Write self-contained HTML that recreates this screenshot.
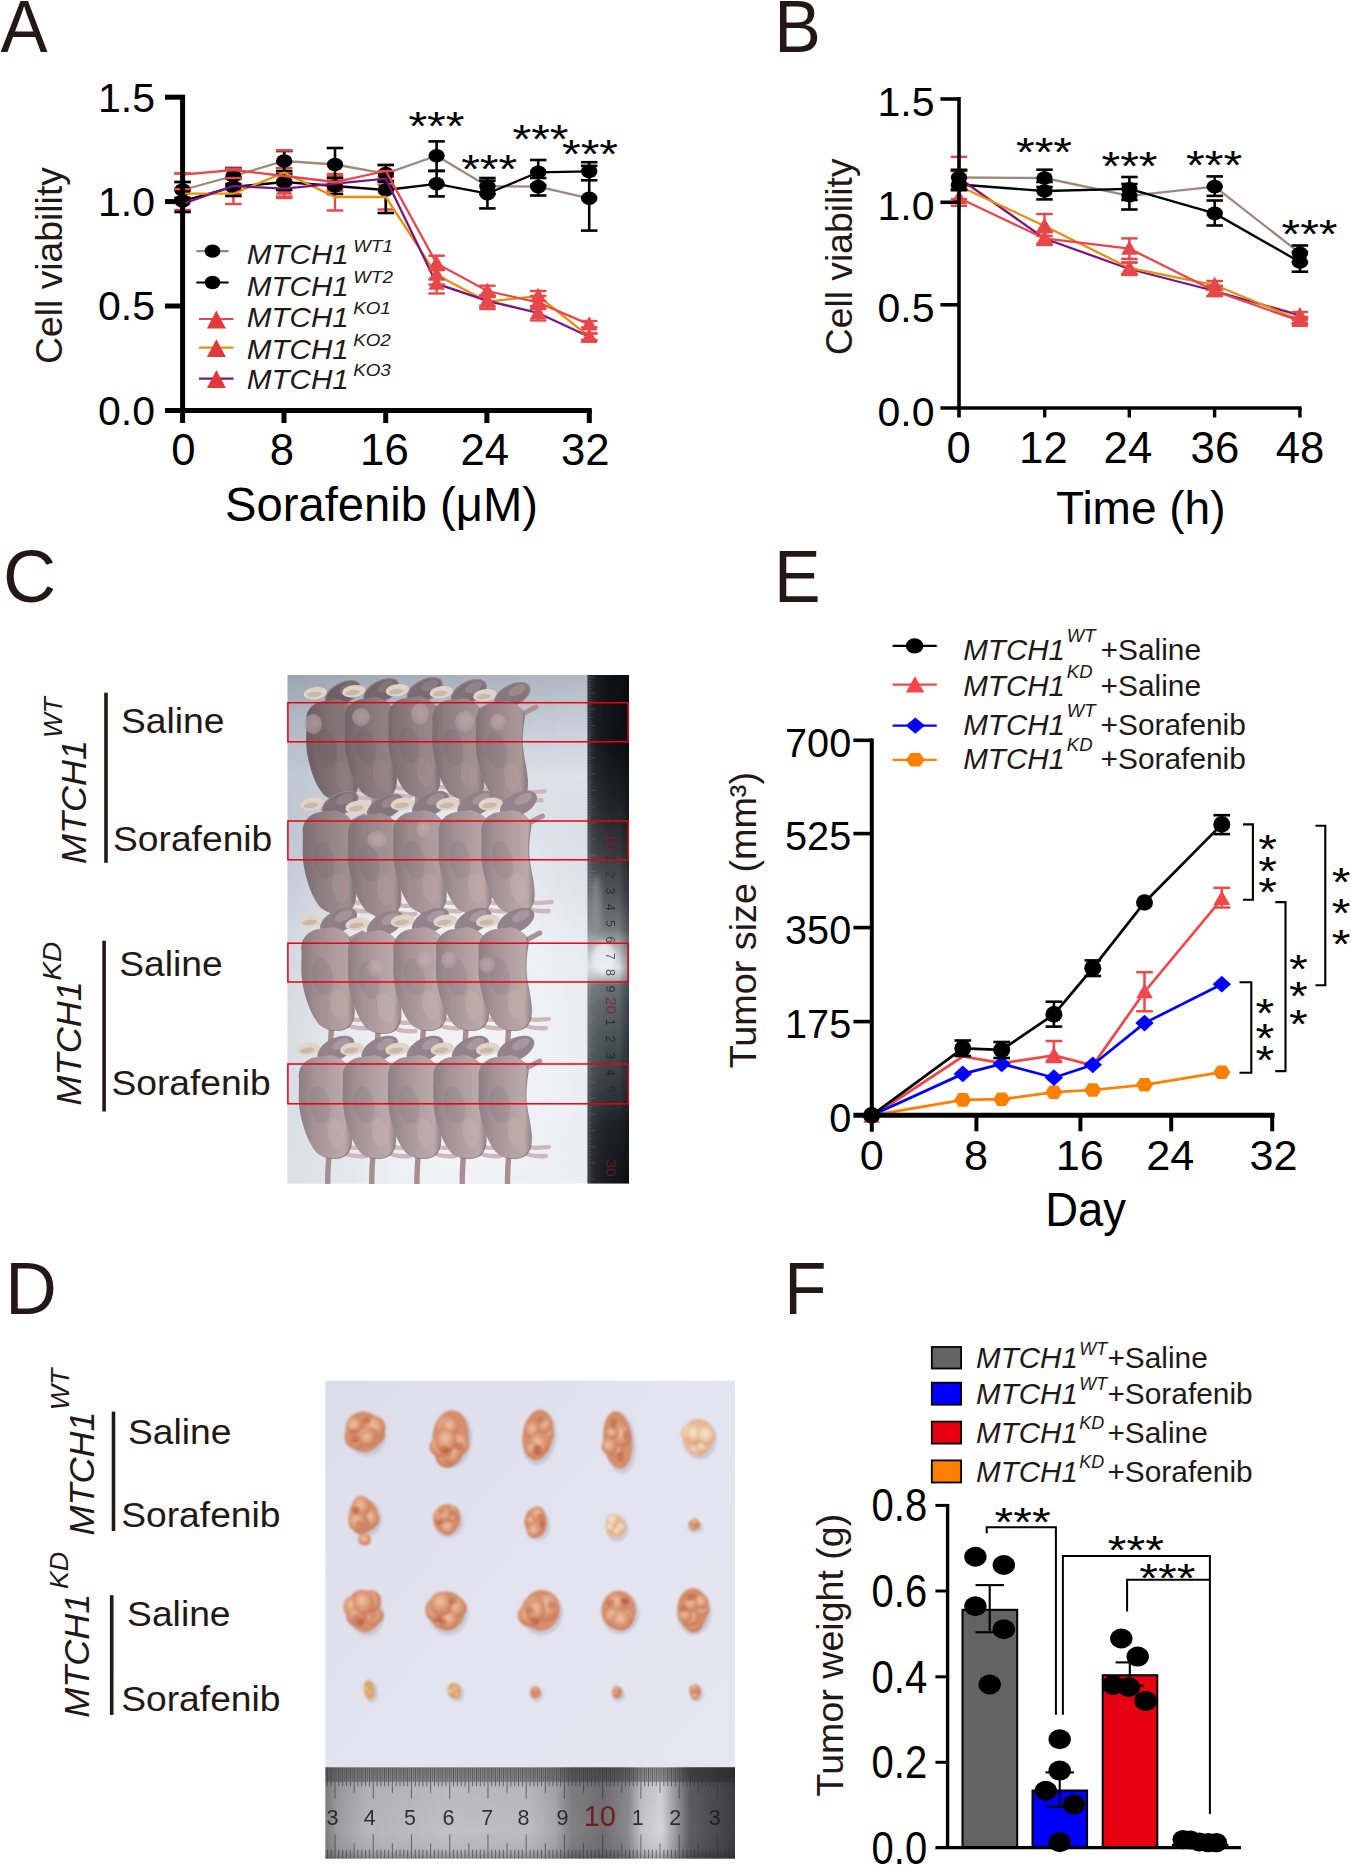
<!DOCTYPE html>
<html><head><meta charset="utf-8"><title>Figure</title>
<style>
html,body{margin:0;padding:0;background:#fff;}
body{width:1351px;height:1865px;overflow:hidden;}
svg{display:block;font-family:"Liberation Sans",sans-serif;}
</style></head><body>
<svg width="1351" height="1865" viewBox="0 0 1351 1865">
<defs>
<clipPath id="clipC"><rect x="287.3" y="675" width="341.7" height="508.7"/></clipPath>
<linearGradient id="bgC" x1="0" y1="0" x2="1" y2="0">
 <stop offset="0" stop-color="#c0c8d3"/><stop offset="0.4" stop-color="#ced5de"/><stop offset="0.8" stop-color="#dbe0e8"/><stop offset="1" stop-color="#dfe3ea"/>
</linearGradient>
<linearGradient id="bgCv" x1="0" y1="0" x2="0" y2="1">
 <stop offset="0" stop-color="#4a5568" stop-opacity="0.30"/><stop offset="0.08" stop-color="#4a5568" stop-opacity="0.16"/><stop offset="0.2" stop-color="#4a5568" stop-opacity="0.0"/><stop offset="0.5" stop-color="#fff" stop-opacity="0.15"/><stop offset="1" stop-color="#fff" stop-opacity="0.45"/>
</linearGradient>
<linearGradient id="rulC" x1="0" y1="0" x2="0" y2="1">
 <stop offset="0" stop-color="#0d0f14"/><stop offset="0.14" stop-color="#101217"/><stop offset="0.24" stop-color="#1d2025"/>
 <stop offset="0.34" stop-color="#32363b"/><stop offset="0.43" stop-color="#50555a"/><stop offset="0.5" stop-color="#767b80"/>
 <stop offset="0.53" stop-color="#a9adb1"/><stop offset="0.575" stop-color="#dfe1e4"/><stop offset="0.598" stop-color="#b5b9bc"/>
 <stop offset="0.608" stop-color="#6a7277"/><stop offset="0.65" stop-color="#596367"/><stop offset="0.72" stop-color="#465054"/>
 <stop offset="0.8" stop-color="#343c40"/><stop offset="0.88" stop-color="#1e2226"/><stop offset="1" stop-color="#121418"/>
</linearGradient>
<linearGradient id="rulCh" x1="0" y1="0" x2="1" y2="0">
 <stop offset="0" stop-color="#fff" stop-opacity="0.10"/><stop offset="0.3" stop-color="#fff" stop-opacity="0.04"/>
 <stop offset="0.75" stop-color="#000" stop-opacity="0.0"/><stop offset="1" stop-color="#000" stop-opacity="0.35"/>
</linearGradient>
<linearGradient id="bodyG" gradientUnits="userSpaceOnUse" x1="-26" y1="0" x2="26" y2="0">
 <stop offset="0" stop-color="#8d7d82"/><stop offset="0.3" stop-color="#a39195"/><stop offset="0.65" stop-color="#b3a0a2"/><stop offset="0.9" stop-color="#bca9a9"/><stop offset="1" stop-color="#9d8c90"/>
</linearGradient>
<radialGradient id="bumpG" cx="0.5" cy="0.45" r="0.6">
 <stop offset="0" stop-color="#cbb7b5"/><stop offset="0.7" stop-color="#b5a2a4"/><stop offset="1" stop-color="#a08f94"/>
</radialGradient>
<filter id="blurC" x="-5%" y="-5%" width="110%" height="110%"><feGaussianBlur stdDeviation="0.6"/></filter>
<filter id="blurL" x="-50%" y="-50%" width="200%" height="200%"><feGaussianBlur stdDeviation="40"/></filter>
<filter id="blurS" x="-30%" y="-30%" width="160%" height="160%"><feGaussianBlur stdDeviation="2.5"/></filter>
<g id="mouse">
 <path d="M14,41 C22,46 30,48 42,47 M18,36 C27,40 35,39 45,38" fill="none" stroke="#d0b8ba" stroke-width="4.4" stroke-linecap="round"/>
 <path d="M15,-38 C22,-40 28,-44 36,-48" fill="none" stroke="#ac9297" stroke-width="5" stroke-linecap="round"/>
 <ellipse cx="12" cy="-60" rx="20" ry="11" transform="rotate(-27 12 -60)" fill="#93838a"/>
 <ellipse cx="17" cy="-65" rx="9.5" ry="4.8" transform="rotate(-27 17 -65)" fill="#a8989e"/>
 <path d="M-25,-30 C-27,-42 -18,-51 -7,-52 L7,-54 C15,-52 23,-47 24,-39 C22,-27 21,-17 22,-7 C23,3 26,13 27,25 C28,37 25,45 17,48 C9,51 -1,49 -8,43 C-16,33 -21,19 -24,3 C-26,-8 -25,-20 -25,-30 Z" fill="#6a5a64" opacity="0.7" transform="translate(1.0,0.7)"/>
 <path d="M-25,-30 C-27,-42 -18,-51 -7,-52 L7,-54 C15,-52 23,-47 24,-39 C22,-27 21,-17 22,-7 C23,3 26,13 27,25 C28,37 25,45 17,48 C9,51 -1,49 -8,43 C-16,33 -21,19 -24,3 C-26,-8 -25,-20 -25,-30 Z" fill="url(#bodyG)"/>
 <ellipse cx="-4" cy="-4" rx="10" ry="19" transform="rotate(-10 -4 -4)" fill="#6d5f6c" opacity="0.14"/>
 <ellipse cx="12" cy="24" rx="8" ry="15" transform="rotate(-8 12 24)" fill="#cdb4b0" opacity="0.40"/>
 <ellipse cx="-16" cy="-60" rx="12" ry="6.2" transform="rotate(-8 -16 -60)" fill="#e0d4c6"/>
 <ellipse cx="-17" cy="-58.6" rx="7.5" ry="2.8" transform="rotate(-8 -17 -58.6)" fill="#cbb8ac"/>
</g>
<g id="mshade"><ellipse cx="12" cy="-60" rx="18.5" ry="9.8" transform="rotate(-27 12 -60)" fill="#1a1216"/>
 <path d="M-25,-30 C-27,-42 -18,-51 -7,-52 L7,-54 C15,-52 23,-47 24,-39 C22,-27 21,-17 22,-7 C23,3 26,13 27,25 C28,37 25,45 17,48 C9,51 -1,49 -8,43 C-16,33 -21,19 -24,3 C-26,-8 -25,-20 -25,-30 Z" fill="#1a1216"/></g>
<path id="tail" d="M5,45 C4,58 3,70 4,86" fill="none" stroke="#a88d91" stroke-width="5.4" stroke-linecap="round"/>
<clipPath id="clipD"><rect x="325.2" y="1380.5" width="409.8" height="478.3"/></clipPath>
<linearGradient id="bgD" x1="0" y1="0" x2="1" y2="1">
 <stop offset="0" stop-color="#dcdde9"/><stop offset="0.5" stop-color="#e3e4ef"/><stop offset="1" stop-color="#e6e6f0"/>
</linearGradient>
<linearGradient id="rulD" x1="0" y1="0" x2="1" y2="0">
 <stop offset="0" stop-color="#7e7e80"/><stop offset="0.03" stop-color="#9c9c9e"/><stop offset="0.1" stop-color="#b6b6b8"/>
 <stop offset="0.3" stop-color="#c1c1c3"/><stop offset="0.5" stop-color="#bcbcbe"/><stop offset="0.56" stop-color="#a8a8aa"/>
 <stop offset="0.6" stop-color="#828284"/><stop offset="0.68" stop-color="#707072"/><stop offset="0.74" stop-color="#8c8c8e"/>
 <stop offset="0.77" stop-color="#c2c2c4"/><stop offset="0.82" stop-color="#d6d6d8"/><stop offset="0.855" stop-color="#9a9a9c"/>
 <stop offset="0.89" stop-color="#5e5e60"/><stop offset="1" stop-color="#3e3e40"/>
</linearGradient>
<linearGradient id="rulDv" x1="0" y1="0" x2="0" y2="1">
 <stop offset="0" stop-color="#000" stop-opacity="0.30"/><stop offset="0.15" stop-color="#000" stop-opacity="0.24"/><stop offset="0.17" stop-color="#000" stop-opacity="0.04"/>
 <stop offset="0.7" stop-color="#000" stop-opacity="0"/><stop offset="0.9" stop-color="#000" stop-opacity="0.05"/><stop offset="1" stop-color="#000" stop-opacity="0.25"/>
</linearGradient>
<radialGradient id="tumG" cx="0.45" cy="0.4" r="0.65">
 <stop offset="0" stop-color="#efc2a4"/><stop offset="0.45" stop-color="#dfa07e"/><stop offset="0.85" stop-color="#cc7f5e"/><stop offset="1" stop-color="#b96a4c"/>
</radialGradient>
<radialGradient id="tumY" cx="0.45" cy="0.4" r="0.65">
 <stop offset="0" stop-color="#f0d6a6"/><stop offset="0.6" stop-color="#deb077"/><stop offset="1" stop-color="#c98e5a"/>
</radialGradient>
<radialGradient id="tumP" cx="0.45" cy="0.4" r="0.65">
 <stop offset="0" stop-color="#f8e6cf"/><stop offset="0.55" stop-color="#ecc6a2"/><stop offset="1" stop-color="#d49a74"/>
</radialGradient>
<filter id="blurD" x="-10%" y="-10%" width="120%" height="120%"><feGaussianBlur stdDeviation="0.8"/></filter>
</defs>
<rect x="0" y="0" width="1351" height="1865" fill="#fff"/>
<g id="panelA">
<polyline points="182.6,190 233.4,176 284.2,161 335,164.5 385.8,173.6 436.6,155.7 487.4,186.2 538.2,186.6 589.2,198.3" fill="none" stroke="#9e877b" stroke-width="2.3" stroke-linejoin="miter" stroke-linecap="butt"/>
<polyline points="182.6,201 233.4,187 284.2,182 335,186 385.8,190 436.6,183.8 487.4,193.6 538.2,172.3 589.2,171.4" fill="none" stroke="#000" stroke-width="2.3" stroke-linejoin="miter" stroke-linecap="butt"/>
<line x1="182.6" y1="188" x2="182.6" y2="200" stroke="#e8474a" stroke-width="2.4" stroke-linecap="butt"/>
<line x1="174.35" y1="188" x2="190.85" y2="188" stroke="#e8474a" stroke-width="2.4" stroke-linecap="butt"/>
<line x1="174.35" y1="200" x2="190.85" y2="200" stroke="#e8474a" stroke-width="2.4" stroke-linecap="butt"/>
<line x1="233.4" y1="186" x2="233.4" y2="204" stroke="#e8474a" stroke-width="2.4" stroke-linecap="butt"/>
<line x1="225.15" y1="186" x2="241.65" y2="186" stroke="#e8474a" stroke-width="2.4" stroke-linecap="butt"/>
<line x1="225.15" y1="204" x2="241.65" y2="204" stroke="#e8474a" stroke-width="2.4" stroke-linecap="butt"/>
<line x1="284.2" y1="150.5" x2="284.2" y2="196.6" stroke="#e8474a" stroke-width="2.4" stroke-linecap="butt"/>
<line x1="275.95" y1="150.5" x2="292.45" y2="150.5" stroke="#e8474a" stroke-width="2.4" stroke-linecap="butt"/>
<line x1="275.95" y1="196.6" x2="292.45" y2="196.6" stroke="#e8474a" stroke-width="2.4" stroke-linecap="butt"/>
<line x1="335" y1="188" x2="335" y2="210.5" stroke="#e8474a" stroke-width="2.4" stroke-linecap="butt"/>
<line x1="326.75" y1="188" x2="343.25" y2="188" stroke="#e8474a" stroke-width="2.4" stroke-linecap="butt"/>
<line x1="326.75" y1="210.5" x2="343.25" y2="210.5" stroke="#e8474a" stroke-width="2.4" stroke-linecap="butt"/>
<line x1="385.8" y1="190" x2="385.8" y2="209.5" stroke="#e8474a" stroke-width="2.4" stroke-linecap="butt"/>
<line x1="377.55" y1="190" x2="394.05" y2="190" stroke="#e8474a" stroke-width="2.4" stroke-linecap="butt"/>
<line x1="377.55" y1="209.5" x2="394.05" y2="209.5" stroke="#e8474a" stroke-width="2.4" stroke-linecap="butt"/>
<line x1="182.6" y1="198" x2="182.6" y2="210" stroke="#e8474a" stroke-width="2.4" stroke-linecap="butt"/>
<line x1="174.35" y1="198" x2="190.85" y2="198" stroke="#e8474a" stroke-width="2.4" stroke-linecap="butt"/>
<line x1="174.35" y1="210" x2="190.85" y2="210" stroke="#e8474a" stroke-width="2.4" stroke-linecap="butt"/>
<line x1="233.4" y1="178" x2="233.4" y2="194" stroke="#e8474a" stroke-width="2.4" stroke-linecap="butt"/>
<line x1="225.15" y1="178" x2="241.65" y2="178" stroke="#e8474a" stroke-width="2.4" stroke-linecap="butt"/>
<line x1="225.15" y1="194" x2="241.65" y2="194" stroke="#e8474a" stroke-width="2.4" stroke-linecap="butt"/>
<line x1="284.2" y1="180" x2="284.2" y2="198" stroke="#e8474a" stroke-width="2.4" stroke-linecap="butt"/>
<line x1="275.95" y1="180" x2="292.45" y2="180" stroke="#e8474a" stroke-width="2.4" stroke-linecap="butt"/>
<line x1="275.95" y1="198" x2="292.45" y2="198" stroke="#e8474a" stroke-width="2.4" stroke-linecap="butt"/>
<line x1="335" y1="176" x2="335" y2="191" stroke="#e8474a" stroke-width="2.4" stroke-linecap="butt"/>
<line x1="326.75" y1="176" x2="343.25" y2="176" stroke="#e8474a" stroke-width="2.4" stroke-linecap="butt"/>
<line x1="326.75" y1="191" x2="343.25" y2="191" stroke="#e8474a" stroke-width="2.4" stroke-linecap="butt"/>
<line x1="385.8" y1="172" x2="385.8" y2="185" stroke="#e8474a" stroke-width="2.4" stroke-linecap="butt"/>
<line x1="377.55" y1="172" x2="394.05" y2="172" stroke="#e8474a" stroke-width="2.4" stroke-linecap="butt"/>
<line x1="377.55" y1="185" x2="394.05" y2="185" stroke="#e8474a" stroke-width="2.4" stroke-linecap="butt"/>
<line x1="182.6" y1="173.4" x2="182.6" y2="182" stroke="#e8474a" stroke-width="2.4" stroke-linecap="butt"/>
<line x1="174.35" y1="173.4" x2="190.85" y2="173.4" stroke="#e8474a" stroke-width="2.4" stroke-linecap="butt"/>
<line x1="174.35" y1="182" x2="190.85" y2="182" stroke="#e8474a" stroke-width="2.4" stroke-linecap="butt"/>
<line x1="233.4" y1="168.5" x2="233.4" y2="179" stroke="#e8474a" stroke-width="2.4" stroke-linecap="butt"/>
<line x1="225.15" y1="168.5" x2="241.65" y2="168.5" stroke="#e8474a" stroke-width="2.4" stroke-linecap="butt"/>
<line x1="225.15" y1="179" x2="241.65" y2="179" stroke="#e8474a" stroke-width="2.4" stroke-linecap="butt"/>
<line x1="284.2" y1="168" x2="284.2" y2="184" stroke="#e8474a" stroke-width="2.4" stroke-linecap="butt"/>
<line x1="275.95" y1="168" x2="292.45" y2="168" stroke="#e8474a" stroke-width="2.4" stroke-linecap="butt"/>
<line x1="275.95" y1="184" x2="292.45" y2="184" stroke="#e8474a" stroke-width="2.4" stroke-linecap="butt"/>
<line x1="335" y1="174" x2="335" y2="190" stroke="#e8474a" stroke-width="2.4" stroke-linecap="butt"/>
<line x1="326.75" y1="174" x2="343.25" y2="174" stroke="#e8474a" stroke-width="2.4" stroke-linecap="butt"/>
<line x1="326.75" y1="190" x2="343.25" y2="190" stroke="#e8474a" stroke-width="2.4" stroke-linecap="butt"/>
<line x1="385.8" y1="165" x2="385.8" y2="177" stroke="#e8474a" stroke-width="2.4" stroke-linecap="butt"/>
<line x1="377.55" y1="165" x2="394.05" y2="165" stroke="#e8474a" stroke-width="2.4" stroke-linecap="butt"/>
<line x1="377.55" y1="177" x2="394.05" y2="177" stroke="#e8474a" stroke-width="2.4" stroke-linecap="butt"/>
<polygon points="284.2,180.5 275.95,194.7 292.45,194.7" fill="#e8474a"/>
<line x1="182.6" y1="182" x2="182.6" y2="198" stroke="#000" stroke-width="2.6" stroke-linecap="butt"/>
<line x1="174.35" y1="182" x2="190.85" y2="182" stroke="#000" stroke-width="2.6" stroke-linecap="butt"/>
<line x1="174.35" y1="198" x2="190.85" y2="198" stroke="#000" stroke-width="2.6" stroke-linecap="butt"/>
<ellipse cx="182.6" cy="190" rx="8.2" ry="6.8" fill="#000"/>
<line x1="233.4" y1="168" x2="233.4" y2="184" stroke="#000" stroke-width="2.6" stroke-linecap="butt"/>
<line x1="225.15" y1="168" x2="241.65" y2="168" stroke="#000" stroke-width="2.6" stroke-linecap="butt"/>
<line x1="225.15" y1="184" x2="241.65" y2="184" stroke="#000" stroke-width="2.6" stroke-linecap="butt"/>
<ellipse cx="233.4" cy="176" rx="8.2" ry="6.8" fill="#000"/>
<line x1="284.2" y1="151" x2="284.2" y2="171" stroke="#000" stroke-width="2.6" stroke-linecap="butt"/>
<line x1="275.95" y1="151" x2="292.45" y2="151" stroke="#000" stroke-width="2.6" stroke-linecap="butt"/>
<line x1="275.95" y1="171" x2="292.45" y2="171" stroke="#000" stroke-width="2.6" stroke-linecap="butt"/>
<ellipse cx="284.2" cy="161" rx="8.2" ry="6.8" fill="#000"/>
<line x1="335" y1="148" x2="335" y2="181" stroke="#000" stroke-width="2.6" stroke-linecap="butt"/>
<line x1="326.75" y1="148" x2="343.25" y2="148" stroke="#000" stroke-width="2.6" stroke-linecap="butt"/>
<line x1="326.75" y1="181" x2="343.25" y2="181" stroke="#000" stroke-width="2.6" stroke-linecap="butt"/>
<ellipse cx="335" cy="164.5" rx="8.2" ry="6.8" fill="#000"/>
<line x1="385.8" y1="165" x2="385.8" y2="182" stroke="#000" stroke-width="2.6" stroke-linecap="butt"/>
<line x1="377.55" y1="165" x2="394.05" y2="165" stroke="#000" stroke-width="2.6" stroke-linecap="butt"/>
<line x1="377.55" y1="182" x2="394.05" y2="182" stroke="#000" stroke-width="2.6" stroke-linecap="butt"/>
<ellipse cx="385.8" cy="173.6" rx="8.2" ry="6.8" fill="#000"/>
<line x1="436.6" y1="141.4" x2="436.6" y2="170.9" stroke="#000" stroke-width="2.6" stroke-linecap="butt"/>
<line x1="428.35" y1="141.4" x2="444.85" y2="141.4" stroke="#000" stroke-width="2.6" stroke-linecap="butt"/>
<line x1="428.35" y1="170.9" x2="444.85" y2="170.9" stroke="#000" stroke-width="2.6" stroke-linecap="butt"/>
<ellipse cx="436.6" cy="155.7" rx="8.2" ry="6.8" fill="#000"/>
<line x1="487.4" y1="178" x2="487.4" y2="194" stroke="#000" stroke-width="2.6" stroke-linecap="butt"/>
<line x1="479.15" y1="178" x2="495.65" y2="178" stroke="#000" stroke-width="2.6" stroke-linecap="butt"/>
<line x1="479.15" y1="194" x2="495.65" y2="194" stroke="#000" stroke-width="2.6" stroke-linecap="butt"/>
<ellipse cx="487.4" cy="186.2" rx="8.2" ry="6.8" fill="#000"/>
<line x1="538.2" y1="178" x2="538.2" y2="195.5" stroke="#000" stroke-width="2.6" stroke-linecap="butt"/>
<line x1="529.95" y1="178" x2="546.45" y2="178" stroke="#000" stroke-width="2.6" stroke-linecap="butt"/>
<line x1="529.95" y1="195.5" x2="546.45" y2="195.5" stroke="#000" stroke-width="2.6" stroke-linecap="butt"/>
<ellipse cx="538.2" cy="186.6" rx="8.2" ry="6.8" fill="#000"/>
<line x1="589.2" y1="165.9" x2="589.2" y2="230.6" stroke="#000" stroke-width="2.6" stroke-linecap="butt"/>
<line x1="580.95" y1="165.9" x2="597.45" y2="165.9" stroke="#000" stroke-width="2.6" stroke-linecap="butt"/>
<line x1="580.95" y1="230.6" x2="597.45" y2="230.6" stroke="#000" stroke-width="2.6" stroke-linecap="butt"/>
<ellipse cx="589.2" cy="198.3" rx="8.2" ry="6.8" fill="#000"/>
<line x1="182.6" y1="190" x2="182.6" y2="212" stroke="#000" stroke-width="2.6" stroke-linecap="butt"/>
<line x1="174.35" y1="190" x2="190.85" y2="190" stroke="#000" stroke-width="2.6" stroke-linecap="butt"/>
<line x1="174.35" y1="212" x2="190.85" y2="212" stroke="#000" stroke-width="2.6" stroke-linecap="butt"/>
<ellipse cx="182.6" cy="201" rx="8.2" ry="6.8" fill="#000"/>
<line x1="233.4" y1="178" x2="233.4" y2="196" stroke="#000" stroke-width="2.6" stroke-linecap="butt"/>
<line x1="225.15" y1="178" x2="241.65" y2="178" stroke="#000" stroke-width="2.6" stroke-linecap="butt"/>
<line x1="225.15" y1="196" x2="241.65" y2="196" stroke="#000" stroke-width="2.6" stroke-linecap="butt"/>
<ellipse cx="233.4" cy="187" rx="8.2" ry="6.8" fill="#000"/>
<line x1="284.2" y1="174" x2="284.2" y2="190" stroke="#000" stroke-width="2.6" stroke-linecap="butt"/>
<line x1="275.95" y1="174" x2="292.45" y2="174" stroke="#000" stroke-width="2.6" stroke-linecap="butt"/>
<line x1="275.95" y1="190" x2="292.45" y2="190" stroke="#000" stroke-width="2.6" stroke-linecap="butt"/>
<ellipse cx="284.2" cy="182" rx="8.2" ry="6.8" fill="#000"/>
<line x1="335" y1="178" x2="335" y2="194" stroke="#000" stroke-width="2.6" stroke-linecap="butt"/>
<line x1="326.75" y1="178" x2="343.25" y2="178" stroke="#000" stroke-width="2.6" stroke-linecap="butt"/>
<line x1="326.75" y1="194" x2="343.25" y2="194" stroke="#000" stroke-width="2.6" stroke-linecap="butt"/>
<ellipse cx="335" cy="186" rx="8.2" ry="6.8" fill="#000"/>
<line x1="385.8" y1="181" x2="385.8" y2="213" stroke="#000" stroke-width="2.6" stroke-linecap="butt"/>
<line x1="377.55" y1="181" x2="394.05" y2="181" stroke="#000" stroke-width="2.6" stroke-linecap="butt"/>
<line x1="377.55" y1="213" x2="394.05" y2="213" stroke="#000" stroke-width="2.6" stroke-linecap="butt"/>
<ellipse cx="385.8" cy="190" rx="8.2" ry="6.8" fill="#000"/>
<line x1="436.6" y1="170.9" x2="436.6" y2="196.4" stroke="#000" stroke-width="2.6" stroke-linecap="butt"/>
<line x1="428.35" y1="170.9" x2="444.85" y2="170.9" stroke="#000" stroke-width="2.6" stroke-linecap="butt"/>
<line x1="428.35" y1="196.4" x2="444.85" y2="196.4" stroke="#000" stroke-width="2.6" stroke-linecap="butt"/>
<ellipse cx="436.6" cy="183.8" rx="8.2" ry="6.8" fill="#000"/>
<line x1="487.4" y1="180.7" x2="487.4" y2="208.4" stroke="#000" stroke-width="2.6" stroke-linecap="butt"/>
<line x1="479.15" y1="180.7" x2="495.65" y2="180.7" stroke="#000" stroke-width="2.6" stroke-linecap="butt"/>
<line x1="479.15" y1="208.4" x2="495.65" y2="208.4" stroke="#000" stroke-width="2.6" stroke-linecap="butt"/>
<ellipse cx="487.4" cy="193.6" rx="8.2" ry="6.8" fill="#000"/>
<line x1="538.2" y1="160" x2="538.2" y2="185" stroke="#000" stroke-width="2.6" stroke-linecap="butt"/>
<line x1="529.95" y1="160" x2="546.45" y2="160" stroke="#000" stroke-width="2.6" stroke-linecap="butt"/>
<line x1="529.95" y1="185" x2="546.45" y2="185" stroke="#000" stroke-width="2.6" stroke-linecap="butt"/>
<ellipse cx="538.2" cy="172.3" rx="8.2" ry="6.8" fill="#000"/>
<line x1="589.2" y1="162.2" x2="589.2" y2="180.3" stroke="#000" stroke-width="2.6" stroke-linecap="butt"/>
<line x1="580.95" y1="162.2" x2="597.45" y2="162.2" stroke="#000" stroke-width="2.6" stroke-linecap="butt"/>
<line x1="580.95" y1="180.3" x2="597.45" y2="180.3" stroke="#000" stroke-width="2.6" stroke-linecap="butt"/>
<ellipse cx="589.2" cy="171.4" rx="8.2" ry="6.8" fill="#000"/>
<polyline points="182.6,193.7 233.4,193.7 284.2,172.6 335,197 385.8,197 436.6,274.8 487.4,301.7 538.2,296 589.2,336.7" fill="none" stroke="#e8900c" stroke-width="2.3" stroke-linejoin="miter" stroke-linecap="butt"/>
<polyline points="182.6,204 233.4,186 284.2,188.7 335,183.7 385.8,178.7 436.6,283.7 487.4,300.8 538.2,313 589.2,336.7" fill="none" stroke="#7a1682" stroke-width="2.3" stroke-linejoin="miter" stroke-linecap="butt"/>
<polyline points="182.6,174.6 233.4,170 284.2,176 335,182 385.8,171 436.6,263.4 487.4,291 538.2,302.5 589.2,324.4" fill="none" stroke="#e8474a" stroke-width="2.3" stroke-linejoin="miter" stroke-linecap="butt"/>
<line x1="436.6" y1="269.9" x2="436.6" y2="284.6" stroke="#e8474a" stroke-width="2.4" stroke-linecap="butt"/>
<line x1="428.35" y1="269.9" x2="444.85" y2="269.9" stroke="#e8474a" stroke-width="2.4" stroke-linecap="butt"/>
<line x1="428.35" y1="284.6" x2="444.85" y2="284.6" stroke="#e8474a" stroke-width="2.4" stroke-linecap="butt"/>
<line x1="487.4" y1="297" x2="487.4" y2="306" stroke="#e8474a" stroke-width="2.4" stroke-linecap="butt"/>
<line x1="479.15" y1="297" x2="495.65" y2="297" stroke="#e8474a" stroke-width="2.4" stroke-linecap="butt"/>
<line x1="479.15" y1="306" x2="495.65" y2="306" stroke="#e8474a" stroke-width="2.4" stroke-linecap="butt"/>
<line x1="538.2" y1="291" x2="538.2" y2="301" stroke="#e8474a" stroke-width="2.4" stroke-linecap="butt"/>
<line x1="529.95" y1="291" x2="546.45" y2="291" stroke="#e8474a" stroke-width="2.4" stroke-linecap="butt"/>
<line x1="529.95" y1="301" x2="546.45" y2="301" stroke="#e8474a" stroke-width="2.4" stroke-linecap="butt"/>
<line x1="589.2" y1="333.4" x2="589.2" y2="340" stroke="#e8474a" stroke-width="2.4" stroke-linecap="butt"/>
<line x1="580.95" y1="333.4" x2="597.45" y2="333.4" stroke="#e8474a" stroke-width="2.4" stroke-linecap="butt"/>
<line x1="580.95" y1="340" x2="597.45" y2="340" stroke="#e8474a" stroke-width="2.4" stroke-linecap="butt"/>
<line x1="436.6" y1="278.9" x2="436.6" y2="293.5" stroke="#e8474a" stroke-width="2.4" stroke-linecap="butt"/>
<line x1="428.35" y1="278.9" x2="444.85" y2="278.9" stroke="#e8474a" stroke-width="2.4" stroke-linecap="butt"/>
<line x1="428.35" y1="293.5" x2="444.85" y2="293.5" stroke="#e8474a" stroke-width="2.4" stroke-linecap="butt"/>
<line x1="487.4" y1="295" x2="487.4" y2="309" stroke="#e8474a" stroke-width="2.4" stroke-linecap="butt"/>
<line x1="479.15" y1="295" x2="495.65" y2="295" stroke="#e8474a" stroke-width="2.4" stroke-linecap="butt"/>
<line x1="479.15" y1="309" x2="495.65" y2="309" stroke="#e8474a" stroke-width="2.4" stroke-linecap="butt"/>
<line x1="538.2" y1="306" x2="538.2" y2="320.4" stroke="#e8474a" stroke-width="2.4" stroke-linecap="butt"/>
<line x1="529.95" y1="306" x2="546.45" y2="306" stroke="#e8474a" stroke-width="2.4" stroke-linecap="butt"/>
<line x1="529.95" y1="320.4" x2="546.45" y2="320.4" stroke="#e8474a" stroke-width="2.4" stroke-linecap="butt"/>
<line x1="589.2" y1="333.4" x2="589.2" y2="340" stroke="#e8474a" stroke-width="2.4" stroke-linecap="butt"/>
<line x1="580.95" y1="333.4" x2="597.45" y2="333.4" stroke="#e8474a" stroke-width="2.4" stroke-linecap="butt"/>
<line x1="580.95" y1="340" x2="597.45" y2="340" stroke="#e8474a" stroke-width="2.4" stroke-linecap="butt"/>
<line x1="436.6" y1="255.7" x2="436.6" y2="270" stroke="#e8474a" stroke-width="2.4" stroke-linecap="butt"/>
<line x1="428.35" y1="255.7" x2="444.85" y2="255.7" stroke="#e8474a" stroke-width="2.4" stroke-linecap="butt"/>
<line x1="428.35" y1="270" x2="444.85" y2="270" stroke="#e8474a" stroke-width="2.4" stroke-linecap="butt"/>
<line x1="487.4" y1="285.7" x2="487.4" y2="296" stroke="#e8474a" stroke-width="2.4" stroke-linecap="butt"/>
<line x1="479.15" y1="285.7" x2="495.65" y2="285.7" stroke="#e8474a" stroke-width="2.4" stroke-linecap="butt"/>
<line x1="479.15" y1="296" x2="495.65" y2="296" stroke="#e8474a" stroke-width="2.4" stroke-linecap="butt"/>
<line x1="538.2" y1="296" x2="538.2" y2="309" stroke="#e8474a" stroke-width="2.4" stroke-linecap="butt"/>
<line x1="529.95" y1="296" x2="546.45" y2="296" stroke="#e8474a" stroke-width="2.4" stroke-linecap="butt"/>
<line x1="529.95" y1="309" x2="546.45" y2="309" stroke="#e8474a" stroke-width="2.4" stroke-linecap="butt"/>
<line x1="589.2" y1="321" x2="589.2" y2="327.4" stroke="#e8474a" stroke-width="2.4" stroke-linecap="butt"/>
<line x1="580.95" y1="321" x2="597.45" y2="321" stroke="#e8474a" stroke-width="2.4" stroke-linecap="butt"/>
<line x1="580.95" y1="327.4" x2="597.45" y2="327.4" stroke="#e8474a" stroke-width="2.4" stroke-linecap="butt"/>
<polygon points="436.6,266.6 428.35,280.8 444.85,280.8" fill="#e8474a"/>
<polygon points="436.6,275.5 428.35,289.7 444.85,289.7" fill="#e8474a"/>
<polygon points="436.6,255.2 428.35,269.4 444.85,269.4" fill="#e8474a"/>
<polygon points="487.4,293.5 479.15,307.7 495.65,307.7" fill="#e8474a"/>
<polygon points="487.4,292.6 479.15,306.8 495.65,306.8" fill="#e8474a"/>
<polygon points="487.4,282.8 479.15,297 495.65,297" fill="#e8474a"/>
<polygon points="538.2,287.8 529.95,302 546.45,302" fill="#e8474a"/>
<polygon points="538.2,304.8 529.95,319 546.45,319" fill="#e8474a"/>
<polygon points="538.2,294.3 529.95,308.5 546.45,308.5" fill="#e8474a"/>
<polygon points="589.2,328.5 580.95,342.7 597.45,342.7" fill="#e8474a"/>
<polygon points="589.2,328.5 580.95,342.7 597.45,342.7" fill="#e8474a"/>
<polygon points="589.2,316.2 580.95,330.4 597.45,330.4" fill="#e8474a"/>
<line x1="174.4" y1="173.4" x2="190.8" y2="173.4" stroke="#e8474a" stroke-width="2.4" stroke-linecap="butt"/>
<line x1="174.4" y1="189.2" x2="190.8" y2="189.2" stroke="#e8474a" stroke-width="2.4" stroke-linecap="butt"/>
<line x1="225.2" y1="168.5" x2="241.6" y2="168.5" stroke="#e8474a" stroke-width="2.4" stroke-linecap="butt"/>
<line x1="225.2" y1="178" x2="241.6" y2="178" stroke="#e8474a" stroke-width="2.4" stroke-linecap="butt"/>
<line x1="276" y1="150.5" x2="292.4" y2="150.5" stroke="#e8474a" stroke-width="2.4" stroke-linecap="butt"/>
<line x1="377.6" y1="171" x2="394" y2="171" stroke="#e8474a" stroke-width="2.4" stroke-linecap="butt"/>
<line x1="326.8" y1="182" x2="343.2" y2="182" stroke="#e8474a" stroke-width="2.4" stroke-linecap="butt"/>
<line x1="182.6" y1="94.7" x2="182.6" y2="423" stroke="#000" stroke-width="5" stroke-linecap="butt"/>
<line x1="165" y1="410.5" x2="591.8" y2="410.5" stroke="#000" stroke-width="5" stroke-linecap="butt"/>
<line x1="165" y1="97.2" x2="182.6" y2="97.2" stroke="#000" stroke-width="5" stroke-linecap="butt"/>
<line x1="165" y1="201.6" x2="182.6" y2="201.6" stroke="#000" stroke-width="5" stroke-linecap="butt"/>
<line x1="165" y1="306" x2="182.6" y2="306" stroke="#000" stroke-width="5" stroke-linecap="butt"/>
<line x1="284" y1="410.5" x2="284" y2="423" stroke="#000" stroke-width="5" stroke-linecap="butt"/>
<line x1="385.7" y1="410.5" x2="385.7" y2="423" stroke="#000" stroke-width="5" stroke-linecap="butt"/>
<line x1="486.9" y1="410.5" x2="486.9" y2="423" stroke="#000" stroke-width="5" stroke-linecap="butt"/>
<line x1="589.3" y1="410.5" x2="589.3" y2="423" stroke="#000" stroke-width="5" stroke-linecap="butt"/>
<text transform="translate(155,111.6)" font-size="41" text-anchor="end" fill="#000">1.5</text>
<text transform="translate(155,216)" font-size="41" text-anchor="end" fill="#000">1.0</text>
<text transform="translate(155,320.4)" font-size="41" text-anchor="end" fill="#000">0.5</text>
<text transform="translate(155,424.9)" font-size="41" text-anchor="end" fill="#000">0.0</text>
<text transform="translate(183.3,465)" font-size="43.7" text-anchor="middle" fill="#000">0</text>
<text transform="translate(281.9,465)" font-size="43.7" text-anchor="middle" fill="#000">8</text>
<text transform="translate(384.4,465)" font-size="43.7" text-anchor="middle" fill="#000">16</text>
<text transform="translate(484.8,465)" font-size="43.7" text-anchor="middle" fill="#000">24</text>
<text transform="translate(585.2,465)" font-size="43.7" text-anchor="middle" fill="#000">32</text>
<text transform="translate(225,520.6)" font-size="47.2" text-anchor="start" fill="#000">Sorafenib (μM)</text>
<text transform="translate(61.7,363.9) rotate(-90) scale(1.03,1)" font-size="36.2" text-anchor="start" fill="#231815">Cell viability</text>
<text transform="translate(436.4,139.55) scale(1.2,1)" font-size="40" text-anchor="middle" fill="#000">***</text>
<text transform="translate(489.2,183.45) scale(1.2,1)" font-size="40" text-anchor="middle" fill="#000">***</text>
<text transform="translate(540.5,152.65) scale(1.2,1)" font-size="40" text-anchor="middle" fill="#000">***</text>
<text transform="translate(590,167.75) scale(1.2,1)" font-size="40" text-anchor="middle" fill="#000">***</text>
<line x1="196.3" y1="251.1" x2="228.6" y2="251.1" stroke="#9e877b" stroke-width="2.2" stroke-linecap="butt"/>
<ellipse cx="212.5" cy="251.1" rx="7.9" ry="6.7" fill="#000"/>
<text transform="translate(246.8,264.4) scale(1.05,1)" font-size="28.2" text-anchor="start" font-style="italic" fill="#231815">MTCH1</text>
<text transform="translate(353.2,251.5) scale(1.12,1)" font-size="16.8" text-anchor="start" font-style="italic" fill="#231815">WT1</text>
<line x1="196.3" y1="282.5" x2="228.6" y2="282.5" stroke="#000" stroke-width="2.2" stroke-linecap="butt"/>
<ellipse cx="212.5" cy="282.5" rx="7.9" ry="6.7" fill="#000"/>
<text transform="translate(246.8,295.9) scale(1.05,1)" font-size="28.2" text-anchor="start" font-style="italic" fill="#231815">MTCH1</text>
<text transform="translate(353.2,283) scale(1.12,1)" font-size="16.8" text-anchor="start" font-style="italic" fill="#231815">WT2</text>
<line x1="199" y1="319" x2="233.5" y2="319" stroke="#e8474a" stroke-width="2.2" stroke-linecap="butt"/>
<polygon points="216.4,310.5 206.9,328.4 225.9,328.4" fill="#e03a3c"/>
<text transform="translate(246.8,327.3) scale(1.05,1)" font-size="28.2" text-anchor="start" font-style="italic" fill="#231815">MTCH1</text>
<text transform="translate(353.2,314.4) scale(1.12,1)" font-size="16.8" text-anchor="start" font-style="italic" fill="#231815">KO1</text>
<line x1="199" y1="347.7" x2="233.5" y2="347.7" stroke="#e8900c" stroke-width="2.2" stroke-linecap="butt"/>
<polygon points="216.4,339.2 206.9,357.1 225.9,357.1" fill="#e03a3c"/>
<text transform="translate(246.8,358.8) scale(1.05,1)" font-size="28.2" text-anchor="start" font-style="italic" fill="#231815">MTCH1</text>
<text transform="translate(353.2,345.9) scale(1.12,1)" font-size="16.8" text-anchor="start" font-style="italic" fill="#231815">KO2</text>
<line x1="199" y1="378.6" x2="233.5" y2="378.6" stroke="#7a1682" stroke-width="2.2" stroke-linecap="butt"/>
<polygon points="216.4,370.1 206.9,388 225.9,388" fill="#e03a3c"/>
<text transform="translate(246.8,389.3) scale(1.05,1)" font-size="28.2" text-anchor="start" font-style="italic" fill="#231815">MTCH1</text>
<text transform="translate(353.2,376.4) scale(1.12,1)" font-size="16.8" text-anchor="start" font-style="italic" fill="#231815">KO3</text>
</g>
<g id="panelB">
<polyline points="959,177.5 1044.5,178 1129.4,195.8 1214.7,186.6 1299.9,253.2" fill="none" stroke="#9e877b" stroke-width="2.3" stroke-linejoin="miter" stroke-linecap="butt"/>
<polyline points="959,184.5 1044.5,191 1129.4,188.8 1214.7,213.4 1299.9,262" fill="none" stroke="#000" stroke-width="2.3" stroke-linejoin="miter" stroke-linecap="butt"/>
<polyline points="959,178 1044.5,238.5 1129.4,269 1214.7,291 1299.9,315.3" fill="none" stroke="#7a1682" stroke-width="2.3" stroke-linejoin="miter" stroke-linecap="butt"/>
<polyline points="959,186 1044.5,226 1129.4,268 1214.7,285 1299.9,320" fill="none" stroke="#e8900c" stroke-width="2.3" stroke-linejoin="miter" stroke-linecap="butt"/>
<polyline points="959,198 1044.5,238.5 1129.4,248.7 1214.7,291 1299.9,320.9" fill="none" stroke="#e8474a" stroke-width="2.3" stroke-linejoin="miter" stroke-linecap="butt"/>
<line x1="959" y1="156.8" x2="959" y2="199" stroke="#e8474a" stroke-width="2.4" stroke-linecap="butt"/>
<line x1="950.75" y1="156.8" x2="967.25" y2="156.8" stroke="#e8474a" stroke-width="2.4" stroke-linecap="butt"/>
<line x1="950.75" y1="199" x2="967.25" y2="199" stroke="#e8474a" stroke-width="2.4" stroke-linecap="butt"/>
<line x1="1044.5" y1="214" x2="1044.5" y2="236" stroke="#e8474a" stroke-width="2.4" stroke-linecap="butt"/>
<line x1="1036.25" y1="214" x2="1052.75" y2="214" stroke="#e8474a" stroke-width="2.4" stroke-linecap="butt"/>
<line x1="1036.25" y1="236" x2="1052.75" y2="236" stroke="#e8474a" stroke-width="2.4" stroke-linecap="butt"/>
<line x1="1129.4" y1="262.5" x2="1129.4" y2="274" stroke="#e8474a" stroke-width="2.4" stroke-linecap="butt"/>
<line x1="1121.15" y1="262.5" x2="1137.65" y2="262.5" stroke="#e8474a" stroke-width="2.4" stroke-linecap="butt"/>
<line x1="1121.15" y1="274" x2="1137.65" y2="274" stroke="#e8474a" stroke-width="2.4" stroke-linecap="butt"/>
<line x1="1214.7" y1="281" x2="1214.7" y2="290" stroke="#e8474a" stroke-width="2.4" stroke-linecap="butt"/>
<line x1="1206.45" y1="281" x2="1222.95" y2="281" stroke="#e8474a" stroke-width="2.4" stroke-linecap="butt"/>
<line x1="1206.45" y1="290" x2="1222.95" y2="290" stroke="#e8474a" stroke-width="2.4" stroke-linecap="butt"/>
<line x1="1299.9" y1="317" x2="1299.9" y2="323" stroke="#e8474a" stroke-width="2.4" stroke-linecap="butt"/>
<line x1="1291.65" y1="317" x2="1308.15" y2="317" stroke="#e8474a" stroke-width="2.4" stroke-linecap="butt"/>
<line x1="1291.65" y1="323" x2="1308.15" y2="323" stroke="#e8474a" stroke-width="2.4" stroke-linecap="butt"/>
<line x1="959" y1="171" x2="959" y2="186" stroke="#e8474a" stroke-width="2.4" stroke-linecap="butt"/>
<line x1="950.75" y1="171" x2="967.25" y2="171" stroke="#e8474a" stroke-width="2.4" stroke-linecap="butt"/>
<line x1="950.75" y1="186" x2="967.25" y2="186" stroke="#e8474a" stroke-width="2.4" stroke-linecap="butt"/>
<line x1="1044.5" y1="232" x2="1044.5" y2="245" stroke="#e8474a" stroke-width="2.4" stroke-linecap="butt"/>
<line x1="1036.25" y1="232" x2="1052.75" y2="232" stroke="#e8474a" stroke-width="2.4" stroke-linecap="butt"/>
<line x1="1036.25" y1="245" x2="1052.75" y2="245" stroke="#e8474a" stroke-width="2.4" stroke-linecap="butt"/>
<line x1="1129.4" y1="262.5" x2="1129.4" y2="275" stroke="#e8474a" stroke-width="2.4" stroke-linecap="butt"/>
<line x1="1121.15" y1="262.5" x2="1137.65" y2="262.5" stroke="#e8474a" stroke-width="2.4" stroke-linecap="butt"/>
<line x1="1121.15" y1="275" x2="1137.65" y2="275" stroke="#e8474a" stroke-width="2.4" stroke-linecap="butt"/>
<line x1="1214.7" y1="286" x2="1214.7" y2="296" stroke="#e8474a" stroke-width="2.4" stroke-linecap="butt"/>
<line x1="1206.45" y1="286" x2="1222.95" y2="286" stroke="#e8474a" stroke-width="2.4" stroke-linecap="butt"/>
<line x1="1206.45" y1="296" x2="1222.95" y2="296" stroke="#e8474a" stroke-width="2.4" stroke-linecap="butt"/>
<line x1="1299.9" y1="312" x2="1299.9" y2="319" stroke="#e8474a" stroke-width="2.4" stroke-linecap="butt"/>
<line x1="1291.65" y1="312" x2="1308.15" y2="312" stroke="#e8474a" stroke-width="2.4" stroke-linecap="butt"/>
<line x1="1291.65" y1="319" x2="1308.15" y2="319" stroke="#e8474a" stroke-width="2.4" stroke-linecap="butt"/>
<line x1="959" y1="188" x2="959" y2="205.8" stroke="#e8474a" stroke-width="2.4" stroke-linecap="butt"/>
<line x1="950.75" y1="188" x2="967.25" y2="188" stroke="#e8474a" stroke-width="2.4" stroke-linecap="butt"/>
<line x1="950.75" y1="205.8" x2="967.25" y2="205.8" stroke="#e8474a" stroke-width="2.4" stroke-linecap="butt"/>
<line x1="1044.5" y1="232" x2="1044.5" y2="244" stroke="#e8474a" stroke-width="2.4" stroke-linecap="butt"/>
<line x1="1036.25" y1="232" x2="1052.75" y2="232" stroke="#e8474a" stroke-width="2.4" stroke-linecap="butt"/>
<line x1="1036.25" y1="244" x2="1052.75" y2="244" stroke="#e8474a" stroke-width="2.4" stroke-linecap="butt"/>
<line x1="1129.4" y1="238.4" x2="1129.4" y2="258.8" stroke="#e8474a" stroke-width="2.4" stroke-linecap="butt"/>
<line x1="1121.15" y1="238.4" x2="1137.65" y2="238.4" stroke="#e8474a" stroke-width="2.4" stroke-linecap="butt"/>
<line x1="1121.15" y1="258.8" x2="1137.65" y2="258.8" stroke="#e8474a" stroke-width="2.4" stroke-linecap="butt"/>
<line x1="1214.7" y1="286" x2="1214.7" y2="296" stroke="#e8474a" stroke-width="2.4" stroke-linecap="butt"/>
<line x1="1206.45" y1="286" x2="1222.95" y2="286" stroke="#e8474a" stroke-width="2.4" stroke-linecap="butt"/>
<line x1="1206.45" y1="296" x2="1222.95" y2="296" stroke="#e8474a" stroke-width="2.4" stroke-linecap="butt"/>
<line x1="1299.9" y1="318" x2="1299.9" y2="324" stroke="#e8474a" stroke-width="2.4" stroke-linecap="butt"/>
<line x1="1291.65" y1="318" x2="1308.15" y2="318" stroke="#e8474a" stroke-width="2.4" stroke-linecap="butt"/>
<line x1="1291.65" y1="324" x2="1308.15" y2="324" stroke="#e8474a" stroke-width="2.4" stroke-linecap="butt"/>
<polygon points="959,189.8 950.75,204 967.25,204" fill="#e8474a"/>
<polygon points="1044.5,217.8 1036.25,232 1052.75,232" fill="#e8474a"/>
<polygon points="1044.5,230.3 1036.25,244.5 1052.75,244.5" fill="#e8474a"/>
<polygon points="1044.5,230.3 1036.25,244.5 1052.75,244.5" fill="#e8474a"/>
<polygon points="1129.4,259.8 1121.15,274 1137.65,274" fill="#e8474a"/>
<polygon points="1129.4,260.8 1121.15,275 1137.65,275" fill="#e8474a"/>
<polygon points="1129.4,240.5 1121.15,254.7 1137.65,254.7" fill="#e8474a"/>
<polygon points="1214.7,276.8 1206.45,291 1222.95,291" fill="#e8474a"/>
<polygon points="1214.7,282.8 1206.45,297 1222.95,297" fill="#e8474a"/>
<polygon points="1214.7,282.8 1206.45,297 1222.95,297" fill="#e8474a"/>
<polygon points="1299.9,311.8 1291.65,326 1308.15,326" fill="#e8474a"/>
<polygon points="1299.9,307.1 1291.65,321.3 1308.15,321.3" fill="#e8474a"/>
<polygon points="1299.9,312.7 1291.65,326.9 1308.15,326.9" fill="#e8474a"/>
<line x1="959" y1="170" x2="959" y2="190" stroke="#000" stroke-width="2.6" stroke-linecap="butt"/>
<line x1="950.75" y1="170" x2="967.25" y2="170" stroke="#000" stroke-width="2.6" stroke-linecap="butt"/>
<line x1="950.75" y1="190" x2="967.25" y2="190" stroke="#000" stroke-width="2.6" stroke-linecap="butt"/>
<ellipse cx="959" cy="177.5" rx="8.2" ry="6.8" fill="#000"/>
<line x1="1044.5" y1="169.7" x2="1044.5" y2="187" stroke="#000" stroke-width="2.6" stroke-linecap="butt"/>
<line x1="1036.25" y1="169.7" x2="1052.75" y2="169.7" stroke="#000" stroke-width="2.6" stroke-linecap="butt"/>
<line x1="1036.25" y1="187" x2="1052.75" y2="187" stroke="#000" stroke-width="2.6" stroke-linecap="butt"/>
<ellipse cx="1044.5" cy="178" rx="8.2" ry="6.8" fill="#000"/>
<line x1="1129.4" y1="184" x2="1129.4" y2="209.5" stroke="#000" stroke-width="2.6" stroke-linecap="butt"/>
<line x1="1121.15" y1="184" x2="1137.65" y2="184" stroke="#000" stroke-width="2.6" stroke-linecap="butt"/>
<line x1="1121.15" y1="209.5" x2="1137.65" y2="209.5" stroke="#000" stroke-width="2.6" stroke-linecap="butt"/>
<ellipse cx="1129.4" cy="195.8" rx="8.2" ry="6.8" fill="#000"/>
<line x1="1214.7" y1="176.4" x2="1214.7" y2="195.9" stroke="#000" stroke-width="2.6" stroke-linecap="butt"/>
<line x1="1206.45" y1="176.4" x2="1222.95" y2="176.4" stroke="#000" stroke-width="2.6" stroke-linecap="butt"/>
<line x1="1206.45" y1="195.9" x2="1222.95" y2="195.9" stroke="#000" stroke-width="2.6" stroke-linecap="butt"/>
<ellipse cx="1214.7" cy="186.6" rx="8.2" ry="6.8" fill="#000"/>
<line x1="1299.9" y1="245.5" x2="1299.9" y2="262" stroke="#000" stroke-width="2.6" stroke-linecap="butt"/>
<line x1="1291.65" y1="245.5" x2="1308.15" y2="245.5" stroke="#000" stroke-width="2.6" stroke-linecap="butt"/>
<line x1="1291.65" y1="262" x2="1308.15" y2="262" stroke="#000" stroke-width="2.6" stroke-linecap="butt"/>
<ellipse cx="1299.9" cy="253.2" rx="8.2" ry="6.8" fill="#000"/>
<line x1="959" y1="170" x2="959" y2="190" stroke="#000" stroke-width="2.6" stroke-linecap="butt"/>
<line x1="950.75" y1="170" x2="967.25" y2="170" stroke="#000" stroke-width="2.6" stroke-linecap="butt"/>
<line x1="950.75" y1="190" x2="967.25" y2="190" stroke="#000" stroke-width="2.6" stroke-linecap="butt"/>
<ellipse cx="959" cy="184.5" rx="8.2" ry="6.8" fill="#000"/>
<line x1="1044.5" y1="182" x2="1044.5" y2="199.4" stroke="#000" stroke-width="2.6" stroke-linecap="butt"/>
<line x1="1036.25" y1="182" x2="1052.75" y2="182" stroke="#000" stroke-width="2.6" stroke-linecap="butt"/>
<line x1="1036.25" y1="199.4" x2="1052.75" y2="199.4" stroke="#000" stroke-width="2.6" stroke-linecap="butt"/>
<ellipse cx="1044.5" cy="191" rx="8.2" ry="6.8" fill="#000"/>
<line x1="1129.4" y1="177" x2="1129.4" y2="200" stroke="#000" stroke-width="2.6" stroke-linecap="butt"/>
<line x1="1121.15" y1="177" x2="1137.65" y2="177" stroke="#000" stroke-width="2.6" stroke-linecap="butt"/>
<line x1="1121.15" y1="200" x2="1137.65" y2="200" stroke="#000" stroke-width="2.6" stroke-linecap="butt"/>
<ellipse cx="1129.4" cy="188.8" rx="8.2" ry="6.8" fill="#000"/>
<line x1="1214.7" y1="200.5" x2="1214.7" y2="225.5" stroke="#000" stroke-width="2.6" stroke-linecap="butt"/>
<line x1="1206.45" y1="200.5" x2="1222.95" y2="200.5" stroke="#000" stroke-width="2.6" stroke-linecap="butt"/>
<line x1="1206.45" y1="225.5" x2="1222.95" y2="225.5" stroke="#000" stroke-width="2.6" stroke-linecap="butt"/>
<ellipse cx="1214.7" cy="213.4" rx="8.2" ry="6.8" fill="#000"/>
<line x1="1299.9" y1="252" x2="1299.9" y2="271.7" stroke="#000" stroke-width="2.6" stroke-linecap="butt"/>
<line x1="1291.65" y1="252" x2="1308.15" y2="252" stroke="#000" stroke-width="2.6" stroke-linecap="butt"/>
<line x1="1291.65" y1="271.7" x2="1308.15" y2="271.7" stroke="#000" stroke-width="2.6" stroke-linecap="butt"/>
<ellipse cx="1299.9" cy="262" rx="8.2" ry="6.8" fill="#000"/>
<line x1="959" y1="97" x2="959" y2="417.5" stroke="#000" stroke-width="3.6" stroke-linecap="butt"/>
<line x1="940.4" y1="408" x2="1301.6" y2="408" stroke="#000" stroke-width="3.6" stroke-linecap="butt"/>
<line x1="940.4" y1="99" x2="959" y2="99" stroke="#000" stroke-width="3.6" stroke-linecap="butt"/>
<line x1="940.4" y1="202.3" x2="959" y2="202.3" stroke="#000" stroke-width="3.6" stroke-linecap="butt"/>
<line x1="940.4" y1="304.8" x2="959" y2="304.8" stroke="#000" stroke-width="3.6" stroke-linecap="butt"/>
<line x1="1044.7" y1="408" x2="1044.7" y2="417.5" stroke="#000" stroke-width="3.4" stroke-linecap="butt"/>
<line x1="1129.3" y1="408" x2="1129.3" y2="417.5" stroke="#000" stroke-width="3.4" stroke-linecap="butt"/>
<line x1="1214.6" y1="408" x2="1214.6" y2="417.5" stroke="#000" stroke-width="3.4" stroke-linecap="butt"/>
<line x1="1299.9" y1="408" x2="1299.9" y2="417.5" stroke="#000" stroke-width="3.4" stroke-linecap="butt"/>
<text transform="translate(934.5,116.3)" font-size="41" text-anchor="end" fill="#000">1.5</text>
<text transform="translate(934.5,219.6)" font-size="41" text-anchor="end" fill="#000">1.0</text>
<text transform="translate(934.5,322.1)" font-size="41" text-anchor="end" fill="#000">0.5</text>
<text transform="translate(934.5,425.5)" font-size="41" text-anchor="end" fill="#000">0.0</text>
<text transform="translate(958.7,462.8)" font-size="43.7" text-anchor="middle" fill="#000">0</text>
<text transform="translate(1043.4,462.8)" font-size="43.7" text-anchor="middle" fill="#000">12</text>
<text transform="translate(1127.9,462.8)" font-size="43.7" text-anchor="middle" fill="#000">24</text>
<text transform="translate(1214.9,462.8)" font-size="43.7" text-anchor="middle" fill="#000">36</text>
<text transform="translate(1300,462.8)" font-size="43.7" text-anchor="middle" fill="#000">48</text>
<text transform="translate(1056,523.9)" font-size="46" text-anchor="start" fill="#000">Time (h)</text>
<text transform="translate(852,355.2) rotate(-90) scale(1.03,1)" font-size="36.2" text-anchor="start" fill="#231815">Cell viability</text>
<text transform="translate(1044,165.65) scale(1.2,1)" font-size="40" text-anchor="middle" fill="#000">***</text>
<text transform="translate(1129.5,180.35) scale(1.2,1)" font-size="40" text-anchor="middle" fill="#000">***</text>
<text transform="translate(1214.1,179.25) scale(1.2,1)" font-size="40" text-anchor="middle" fill="#000">***</text>
<text transform="translate(1309.5,248.25) scale(1.2,1)" font-size="40" text-anchor="middle" fill="#000">***</text>
</g>
<g id="panelE">
<polyline points="871.6,1115.4 962.8,1099.9 1001.7,1099.2 1053.9,1092.2 1092.8,1090 1144.5,1084.8 1221.8,1072.2" fill="none" stroke="#ff7f00" stroke-width="2.7" stroke-linejoin="miter" stroke-linecap="butt"/>
<polyline points="871.6,1116.5 962.8,1056.5 1001.7,1063.2 1053.9,1055.4 1092.8,1065.4 1144.5,992 1221.8,898.8" fill="none" stroke="#f0474a" stroke-width="2.7" stroke-linejoin="miter" stroke-linecap="butt"/>
<polyline points="871.6,1115.4 962.8,1073.9 1001.7,1063.9 1053.9,1077.7 1092.8,1064.8 1144.5,1023.1 1221.8,984.2" fill="none" stroke="#0000ff" stroke-width="2.7" stroke-linejoin="miter" stroke-linecap="butt"/>
<polyline points="871.6,1115.4 962.8,1048.3 1001.7,1049.9 1053.9,1014.4 1092.8,968.2 1144.5,902.5 1221.8,824.4" fill="none" stroke="#000" stroke-width="2.7" stroke-linejoin="miter" stroke-linecap="butt"/>
<polygon points="954.2,1099.9 958.5,1093.1 967.1,1093.1 971.4,1099.9 967.1,1106.7 958.5,1106.7" fill="#ff7f00"/>
<polygon points="993.1,1099.2 997.4,1092.4 1006,1092.4 1010.3,1099.2 1006,1106 997.4,1106" fill="#ff7f00"/>
<polygon points="1045.3,1092.2 1049.6,1085.4 1058.2,1085.4 1062.5,1092.2 1058.2,1099 1049.6,1099" fill="#ff7f00"/>
<polygon points="1084.2,1090 1088.5,1083.2 1097.1,1083.2 1101.4,1090 1097.1,1096.8 1088.5,1096.8" fill="#ff7f00"/>
<polygon points="1135.9,1084.8 1140.2,1078 1148.8,1078 1153.1,1084.8 1148.8,1091.6 1140.2,1091.6" fill="#ff7f00"/>
<polygon points="1213.2,1072.2 1217.5,1065.4 1226.1,1065.4 1230.4,1072.2 1226.1,1079 1217.5,1079" fill="#ff7f00"/>
<line x1="1053.9" y1="1041" x2="1053.9" y2="1062" stroke="#f0474a" stroke-width="2.5" stroke-linecap="butt"/>
<line x1="1045.55" y1="1041" x2="1062.25" y2="1041" stroke="#f0474a" stroke-width="2.5" stroke-linecap="butt"/>
<line x1="1045.55" y1="1062" x2="1062.25" y2="1062" stroke="#f0474a" stroke-width="2.5" stroke-linecap="butt"/>
<line x1="1144.5" y1="972.2" x2="1144.5" y2="1011.3" stroke="#f0474a" stroke-width="2.5" stroke-linecap="butt"/>
<line x1="1136.15" y1="972.2" x2="1152.85" y2="972.2" stroke="#f0474a" stroke-width="2.5" stroke-linecap="butt"/>
<line x1="1136.15" y1="1011.3" x2="1152.85" y2="1011.3" stroke="#f0474a" stroke-width="2.5" stroke-linecap="butt"/>
<line x1="1221.8" y1="887.8" x2="1221.8" y2="907.5" stroke="#f0474a" stroke-width="2.5" stroke-linecap="butt"/>
<line x1="1213.45" y1="887.8" x2="1230.15" y2="887.8" stroke="#f0474a" stroke-width="2.5" stroke-linecap="butt"/>
<line x1="1213.45" y1="907.5" x2="1230.15" y2="907.5" stroke="#f0474a" stroke-width="2.5" stroke-linecap="butt"/>
<polygon points="871.6,1108.1 863.25,1122.7 879.95,1122.7" fill="#f0474a"/>
<polygon points="1053.9,1047 1045.55,1061.6 1062.25,1061.6" fill="#f0474a"/>
<polygon points="1144.5,983.6 1136.15,998.2 1152.85,998.2" fill="#f0474a"/>
<polygon points="1221.8,890.4 1213.45,905 1230.15,905" fill="#f0474a"/>
<polygon points="962.8,1065.5 972,1073.9 962.8,1082.3 953.6,1073.9" fill="#0000ff"/>
<polygon points="1001.7,1055.5 1010.9,1063.9 1001.7,1072.3 992.5,1063.9" fill="#0000ff"/>
<polygon points="1053.9,1069.3 1063.1,1077.7 1053.9,1086.1 1044.7,1077.7" fill="#0000ff"/>
<polygon points="1092.8,1056.4 1102,1064.8 1092.8,1073.2 1083.6,1064.8" fill="#0000ff"/>
<polygon points="1144.5,1014.7 1153.7,1023.1 1144.5,1031.5 1135.3,1023.1" fill="#0000ff"/>
<polygon points="1221.8,975.8 1231,984.2 1221.8,992.6 1212.6,984.2" fill="#0000ff"/>
<line x1="962.8" y1="1040.5" x2="962.8" y2="1056" stroke="#000" stroke-width="2.6" stroke-linecap="butt"/>
<line x1="954.45" y1="1040.5" x2="971.15" y2="1040.5" stroke="#000" stroke-width="2.6" stroke-linecap="butt"/>
<line x1="954.45" y1="1056" x2="971.15" y2="1056" stroke="#000" stroke-width="2.6" stroke-linecap="butt"/>
<line x1="1001.7" y1="1042" x2="1001.7" y2="1058" stroke="#000" stroke-width="2.6" stroke-linecap="butt"/>
<line x1="993.35" y1="1042" x2="1010.05" y2="1042" stroke="#000" stroke-width="2.6" stroke-linecap="butt"/>
<line x1="993.35" y1="1058" x2="1010.05" y2="1058" stroke="#000" stroke-width="2.6" stroke-linecap="butt"/>
<line x1="1053.9" y1="1001.7" x2="1053.9" y2="1026.6" stroke="#000" stroke-width="2.6" stroke-linecap="butt"/>
<line x1="1045.55" y1="1001.7" x2="1062.25" y2="1001.7" stroke="#000" stroke-width="2.6" stroke-linecap="butt"/>
<line x1="1045.55" y1="1026.6" x2="1062.25" y2="1026.6" stroke="#000" stroke-width="2.6" stroke-linecap="butt"/>
<line x1="1092.8" y1="960.4" x2="1092.8" y2="976" stroke="#000" stroke-width="2.6" stroke-linecap="butt"/>
<line x1="1084.45" y1="960.4" x2="1101.15" y2="960.4" stroke="#000" stroke-width="2.6" stroke-linecap="butt"/>
<line x1="1084.45" y1="976" x2="1101.15" y2="976" stroke="#000" stroke-width="2.6" stroke-linecap="butt"/>
<line x1="1221.8" y1="815.2" x2="1221.8" y2="834.1" stroke="#000" stroke-width="2.6" stroke-linecap="butt"/>
<line x1="1213.45" y1="815.2" x2="1230.15" y2="815.2" stroke="#000" stroke-width="2.6" stroke-linecap="butt"/>
<line x1="1213.45" y1="834.1" x2="1230.15" y2="834.1" stroke="#000" stroke-width="2.6" stroke-linecap="butt"/>
<line x1="871.8" y1="738.5" x2="871.8" y2="1131.7" stroke="#000" stroke-width="4" stroke-linecap="butt"/>
<line x1="853.4" y1="1115.2" x2="1274.6" y2="1115.2" stroke="#000" stroke-width="5" stroke-linecap="butt"/>
<line x1="853.4" y1="740.3" x2="871.8" y2="740.3" stroke="#000" stroke-width="3.6" stroke-linecap="butt"/>
<line x1="853.4" y1="833.6" x2="871.8" y2="833.6" stroke="#000" stroke-width="3.6" stroke-linecap="butt"/>
<line x1="853.4" y1="927.6" x2="871.8" y2="927.6" stroke="#000" stroke-width="3.6" stroke-linecap="butt"/>
<line x1="853.4" y1="1021.6" x2="871.8" y2="1021.6" stroke="#000" stroke-width="3.6" stroke-linecap="butt"/>
<line x1="976.4" y1="1115.2" x2="976.4" y2="1131.3" stroke="#000" stroke-width="4" stroke-linecap="butt"/>
<line x1="1080.4" y1="1115.2" x2="1080.4" y2="1131.3" stroke="#000" stroke-width="4" stroke-linecap="butt"/>
<line x1="1171.2" y1="1115.2" x2="1171.2" y2="1131.3" stroke="#000" stroke-width="4" stroke-linecap="butt"/>
<line x1="1272.2" y1="1115.2" x2="1272.2" y2="1131.3" stroke="#000" stroke-width="4" stroke-linecap="butt"/>
<ellipse cx="871.6" cy="1115.4" rx="8.5" ry="8.3" fill="#000"/>
<ellipse cx="962.8" cy="1048.3" rx="8.5" ry="8.3" fill="#000"/>
<ellipse cx="1001.7" cy="1049.9" rx="8.5" ry="8.3" fill="#000"/>
<ellipse cx="1053.9" cy="1014.4" rx="8.5" ry="8.3" fill="#000"/>
<ellipse cx="1092.8" cy="968.2" rx="8.5" ry="8.3" fill="#000"/>
<ellipse cx="1144.5" cy="902.5" rx="8.5" ry="8.3" fill="#000"/>
<ellipse cx="1221.8" cy="824.4" rx="8.5" ry="8.3" fill="#000"/>
<text transform="translate(851.2,756.9) scale(0.96,1)" font-size="41.3" text-anchor="end" fill="#000">700</text>
<text transform="translate(851.2,850.2) scale(0.96,1)" font-size="41.3" text-anchor="end" fill="#000">525</text>
<text transform="translate(851.2,944.2) scale(0.96,1)" font-size="41.3" text-anchor="end" fill="#000">350</text>
<text transform="translate(851.2,1038.2) scale(0.96,1)" font-size="41.3" text-anchor="end" fill="#000">175</text>
<text transform="translate(851.2,1131.8) scale(0.96,1)" font-size="41.3" text-anchor="end" fill="#000">0</text>
<text transform="translate(871.7,1169.9)" font-size="43.2" text-anchor="middle" fill="#000">0</text>
<text transform="translate(976,1169.9)" font-size="43.2" text-anchor="middle" fill="#000">8</text>
<text transform="translate(1079.8,1169.9)" font-size="43.2" text-anchor="middle" fill="#000">16</text>
<text transform="translate(1170.2,1169.9)" font-size="43.2" text-anchor="middle" fill="#000">24</text>
<text transform="translate(1273.4,1169.9)" font-size="43.2" text-anchor="middle" fill="#000">32</text>
<text transform="translate(1045.2,1226) scale(0.95,1)" font-size="47.8" text-anchor="start" fill="#000">Day</text>
<text transform="translate(756.1,1068.3) rotate(-90) scale(1.04,1)" font-size="36.3" text-anchor="start" fill="#231815">Tumor size (mm³)</text>
<polyline points="1243,824.4 1252.9,824.4 1252.9,899.8 1243,899.8" fill="none" stroke="#000" stroke-width="2.1" stroke-linejoin="miter" stroke-linecap="butt"/>
<polyline points="1275.3,902.1 1285.5,902.1 1285.5,1071.1 1275.3,1071.1" fill="none" stroke="#000" stroke-width="2.1" stroke-linejoin="miter" stroke-linecap="butt"/>
<polyline points="1239.5,982.3 1251.3,982.3 1251.3,1072.7 1239.5,1072.7" fill="none" stroke="#000" stroke-width="2.1" stroke-linejoin="miter" stroke-linecap="butt"/>
<polyline points="1315.5,825.8 1325.3,825.8 1325.3,985.2 1315.5,985.2" fill="none" stroke="#000" stroke-width="2.1" stroke-linejoin="miter" stroke-linecap="butt"/>
<text transform="translate(1267.7,862.65) scale(1.2,1)" font-size="40" text-anchor="middle" fill="#000">*</text>
<text transform="translate(1267.7,884.85) scale(1.2,1)" font-size="40" text-anchor="middle" fill="#000">*</text>
<text transform="translate(1267.7,906.15) scale(1.2,1)" font-size="40" text-anchor="middle" fill="#000">*</text>
<text transform="translate(1341.2,896.45) scale(1.2,1)" font-size="40" text-anchor="middle" fill="#000">*</text>
<text transform="translate(1341.2,927.35) scale(1.2,1)" font-size="40" text-anchor="middle" fill="#000">*</text>
<text transform="translate(1341.2,958.35) scale(1.2,1)" font-size="40" text-anchor="middle" fill="#000">*</text>
<text transform="translate(1298.3,983.45) scale(1.2,1)" font-size="40" text-anchor="middle" fill="#000">*</text>
<text transform="translate(1298.3,1010.45) scale(1.2,1)" font-size="40" text-anchor="middle" fill="#000">*</text>
<text transform="translate(1298.3,1037.55) scale(1.2,1)" font-size="40" text-anchor="middle" fill="#000">*</text>
<text transform="translate(1264.8,1026.85) scale(1.2,1)" font-size="40" text-anchor="middle" fill="#000">*</text>
<text transform="translate(1264.8,1052.05) scale(1.2,1)" font-size="40" text-anchor="middle" fill="#000">*</text>
<text transform="translate(1264.8,1074.25) scale(1.2,1)" font-size="40" text-anchor="middle" fill="#000">*</text>
<line x1="892.6" y1="645.8" x2="936.8" y2="645.8" stroke="#000" stroke-width="2.3" stroke-linecap="butt"/>
<ellipse cx="914.6" cy="645.8" rx="8.8" ry="7.6" fill="#000"/>
<text transform="translate(963.2,660.2) scale(1.02,1)" font-size="29" text-anchor="start" font-style="italic" fill="#231815">MTCH1</text>
<text transform="translate(1066.8,642.1) scale(1.03,1)" font-size="18" text-anchor="start" font-style="italic" fill="#231815">WT</text>
<text transform="translate(1100.6,660.2) scale(1.03,1)" font-size="29" text-anchor="start" fill="#231815">+Saline</text>
<line x1="892.6" y1="684.6" x2="936.8" y2="684.6" stroke="#f0474a" stroke-width="2.3" stroke-linecap="butt"/>
<polygon points="915,676.3 905.75,692.4 924.25,692.4" fill="#f0474a"/>
<text transform="translate(963.2,696) scale(1.02,1)" font-size="29" text-anchor="start" font-style="italic" fill="#231815">MTCH1</text>
<text transform="translate(1066.8,677.9) scale(1.03,1)" font-size="18" text-anchor="start" font-style="italic" fill="#231815">KD</text>
<text transform="translate(1100.6,696) scale(1.03,1)" font-size="29" text-anchor="start" fill="#231815">+Saline</text>
<line x1="892.6" y1="725.6" x2="936.8" y2="725.6" stroke="#0000ff" stroke-width="2.3" stroke-linecap="butt"/>
<polygon points="915.3,717.4 924.9,725.6 915.3,733.8 905.7,725.6" fill="#0000ff"/>
<text transform="translate(963.2,734.9) scale(1.02,1)" font-size="29" text-anchor="start" font-style="italic" fill="#231815">MTCH1</text>
<text transform="translate(1066.8,716.8) scale(1.03,1)" font-size="18" text-anchor="start" font-style="italic" fill="#231815">WT</text>
<text transform="translate(1100.6,734.9) scale(1.03,1)" font-size="29" text-anchor="start" fill="#231815">+Sorafenib</text>
<line x1="892.6" y1="759.8" x2="936.8" y2="759.8" stroke="#ff7f00" stroke-width="2.3" stroke-linecap="butt"/>
<polygon points="905.9,759.8 910.6,753 920,753 924.7,759.8 920,766.6 910.6,766.6" fill="#ff7f00"/>
<text transform="translate(963.2,769) scale(1.02,1)" font-size="29" text-anchor="start" font-style="italic" fill="#231815">MTCH1</text>
<text transform="translate(1066.8,750.9) scale(1.03,1)" font-size="18" text-anchor="start" font-style="italic" fill="#231815">KD</text>
<text transform="translate(1100.6,769) scale(1.03,1)" font-size="29" text-anchor="start" fill="#231815">+Sorafenib</text>
</g>
<g id="panelF">
<rect x="962.5" y="1609.8" width="54.7" height="237.8" fill="#636363" stroke="#000" stroke-width="2"/>
<rect x="1032.5" y="1790.5" width="54.6" height="57.1" fill="#0000ff" stroke="#000" stroke-width="2"/>
<rect x="1102.7" y="1675.2" width="54.6" height="172.4" fill="#e60012" stroke="#000" stroke-width="2"/>
<rect x="1172.8" y="1844.8" width="54.6" height="2.8" fill="#ff7f00" stroke="#000" stroke-width="2"/>
<line x1="989.7" y1="1585.1" x2="989.7" y2="1632.2" stroke="#000" stroke-width="2.1" stroke-linecap="butt"/>
<line x1="975.5" y1="1585.1" x2="1003.9" y2="1585.1" stroke="#000" stroke-width="2.1" stroke-linecap="butt"/>
<line x1="975.5" y1="1632.2" x2="1003.9" y2="1632.2" stroke="#000" stroke-width="2.1" stroke-linecap="butt"/>
<line x1="1059.7" y1="1772.4" x2="1059.7" y2="1806.6" stroke="#000" stroke-width="2.1" stroke-linecap="butt"/>
<line x1="1045.5" y1="1772.4" x2="1073.9" y2="1772.4" stroke="#000" stroke-width="2.1" stroke-linecap="butt"/>
<line x1="1045.5" y1="1806.6" x2="1073.9" y2="1806.6" stroke="#000" stroke-width="2.1" stroke-linecap="butt"/>
<line x1="1129.8" y1="1662.4" x2="1129.8" y2="1685.8" stroke="#000" stroke-width="2.1" stroke-linecap="butt"/>
<line x1="1115.6" y1="1662.4" x2="1144" y2="1662.4" stroke="#000" stroke-width="2.1" stroke-linecap="butt"/>
<line x1="1115.6" y1="1685.8" x2="1144" y2="1685.8" stroke="#000" stroke-width="2.1" stroke-linecap="butt"/>
<ellipse cx="975.4" cy="1556.7" rx="11.2" ry="10" fill="#000"/>
<ellipse cx="1003.8" cy="1565" rx="11.2" ry="10" fill="#000"/>
<ellipse cx="975.4" cy="1606.3" rx="11.2" ry="10" fill="#000"/>
<ellipse cx="1003.8" cy="1629.2" rx="11.2" ry="10" fill="#000"/>
<ellipse cx="989.7" cy="1684.5" rx="11.2" ry="10" fill="#000"/>
<ellipse cx="1059.7" cy="1739.2" rx="11.2" ry="10" fill="#000"/>
<ellipse cx="1059.7" cy="1770.6" rx="11.2" ry="10" fill="#000"/>
<ellipse cx="1045.8" cy="1790.7" rx="11.2" ry="10" fill="#000"/>
<ellipse cx="1074" cy="1804.6" rx="11.2" ry="10" fill="#000"/>
<ellipse cx="1059.7" cy="1842.3" rx="11.2" ry="10" fill="#000"/>
<ellipse cx="1121.3" cy="1638.5" rx="11.2" ry="10" fill="#000"/>
<ellipse cx="1137.7" cy="1656.6" rx="11.2" ry="10" fill="#000"/>
<ellipse cx="1113.3" cy="1685" rx="11.2" ry="10" fill="#000"/>
<ellipse cx="1128.9" cy="1687.1" rx="11.2" ry="10" fill="#000"/>
<ellipse cx="1145.7" cy="1700.9" rx="11.2" ry="10" fill="#000"/>
<ellipse cx="1183" cy="1839.6" rx="10.6" ry="9.6" fill="#000"/>
<ellipse cx="1190.5" cy="1840" rx="10.6" ry="9.6" fill="#000"/>
<ellipse cx="1199.4" cy="1842" rx="10.6" ry="9.6" fill="#000"/>
<ellipse cx="1208.2" cy="1842.6" rx="10.6" ry="9.6" fill="#000"/>
<ellipse cx="1216.5" cy="1842.6" rx="10.6" ry="9.6" fill="#000"/>
<line x1="947.6" y1="1504" x2="947.6" y2="1849.1" stroke="#000" stroke-width="3.4" stroke-linecap="butt"/>
<line x1="935.4" y1="1847.6" x2="1241" y2="1847.6" stroke="#000" stroke-width="3.2" stroke-linecap="butt"/>
<line x1="935.4" y1="1505.4" x2="947.6" y2="1505.4" stroke="#000" stroke-width="3" stroke-linecap="butt"/>
<line x1="935.4" y1="1591" x2="947.6" y2="1591" stroke="#000" stroke-width="3" stroke-linecap="butt"/>
<line x1="935.4" y1="1676.8" x2="947.6" y2="1676.8" stroke="#000" stroke-width="3" stroke-linecap="butt"/>
<line x1="935.4" y1="1762.3" x2="947.6" y2="1762.3" stroke="#000" stroke-width="3" stroke-linecap="butt"/>
<text transform="translate(927.2,1521.3) scale(0.86,1)" font-size="46.5" text-anchor="end" fill="#000">0.8</text>
<text transform="translate(927.2,1606.9) scale(0.86,1)" font-size="46.5" text-anchor="end" fill="#000">0.6</text>
<text transform="translate(927.2,1692.7) scale(0.86,1)" font-size="46.5" text-anchor="end" fill="#000">0.4</text>
<text transform="translate(927.2,1778.2) scale(0.86,1)" font-size="46.5" text-anchor="end" fill="#000">0.2</text>
<text transform="translate(927.2,1863.5) scale(0.86,1)" font-size="46.5" text-anchor="end" fill="#000">0.0</text>
<text transform="translate(842.9,1796.4) rotate(-90) scale(1.03,1)" font-size="36.5" text-anchor="start" fill="#231815">Tumor weight (g)</text>
<polyline points="986.7,1533.3 986.7,1527.2 1055.9,1527.2 1055.9,1714.7" fill="none" stroke="#000" stroke-width="2" stroke-linejoin="miter" stroke-linecap="butt"/>
<polyline points="1062.9,1714.7 1062.9,1555.9 1209.9,1555.9 1209.9,1814.1" fill="none" stroke="#000" stroke-width="2" stroke-linejoin="miter" stroke-linecap="butt"/>
<polyline points="1127.1,1611.6 1127.1,1579.8 1209.9,1579.8" fill="none" stroke="#000" stroke-width="2" stroke-linejoin="miter" stroke-linecap="butt"/>
<text transform="translate(1022.6,1535.65) scale(1.2,1)" font-size="40" text-anchor="middle" fill="#000">***</text>
<text transform="translate(1135.8,1564.15) scale(1.2,1)" font-size="40" text-anchor="middle" fill="#000">***</text>
<text transform="translate(1167.3,1592.35) scale(1.2,1)" font-size="40" text-anchor="middle" fill="#000">***</text>
<rect x="931.8" y="1347" width="29.3" height="21.5" fill="#636363" stroke="#000" stroke-width="1.8"/>
<text transform="translate(976,1368.3) scale(1.02,1)" font-size="29" text-anchor="start" font-style="italic" fill="#231815">MTCH1</text>
<text transform="translate(1079.2,1354.5) scale(1.02,1)" font-size="17.6" text-anchor="start" font-style="italic" fill="#231815">WT</text>
<text transform="translate(1107.4,1368.3) scale(1.03,1)" font-size="29" text-anchor="start" fill="#231815">+Saline</text>
<rect x="931.8" y="1382.7" width="29.3" height="22" fill="#0000ff" stroke="#000" stroke-width="1.8"/>
<text transform="translate(976,1403.8) scale(1.02,1)" font-size="29" text-anchor="start" font-style="italic" fill="#231815">MTCH1</text>
<text transform="translate(1079.2,1390) scale(1.02,1)" font-size="17.6" text-anchor="start" font-style="italic" fill="#231815">WT</text>
<text transform="translate(1107.4,1403.8) scale(1.03,1)" font-size="29" text-anchor="start" fill="#231815">+Sorafenib</text>
<rect x="931.8" y="1421.6" width="29.3" height="22" fill="#e60012" stroke="#000" stroke-width="1.8"/>
<text transform="translate(976,1442.7) scale(1.02,1)" font-size="29" text-anchor="start" font-style="italic" fill="#231815">MTCH1</text>
<text transform="translate(1079.2,1428.9) scale(1.02,1)" font-size="17.6" text-anchor="start" font-style="italic" fill="#231815">KD</text>
<text transform="translate(1107.4,1442.7) scale(1.03,1)" font-size="29" text-anchor="start" fill="#231815">+Saline</text>
<rect x="931.8" y="1460.4" width="29.3" height="22.1" fill="#ff7f00" stroke="#000" stroke-width="1.8"/>
<text transform="translate(976,1481.6) scale(1.02,1)" font-size="29" text-anchor="start" font-style="italic" fill="#231815">MTCH1</text>
<text transform="translate(1079.2,1467.8) scale(1.02,1)" font-size="17.6" text-anchor="start" font-style="italic" fill="#231815">KD</text>
<text transform="translate(1107.4,1481.6) scale(1.03,1)" font-size="29" text-anchor="start" fill="#231815">+Sorafenib</text>
</g>
<g id="letters">
<text transform="translate(0.6,51.5) scale(0.96,1)" font-size="73.6" text-anchor="start" fill="#231815">A</text>
<text transform="translate(774.2,51.8) scale(0.95,1)" font-size="73.6" text-anchor="start" fill="#231815">B</text>
<text transform="translate(3,601.6)" font-size="73.6" text-anchor="start" fill="#231815">C</text>
<text transform="translate(774,602) scale(0.95,1)" font-size="73.6" text-anchor="start" fill="#231815">E</text>
<text transform="translate(5.2,1314) scale(0.97,1)" font-size="73.6" text-anchor="start" fill="#231815">D</text>
<text transform="translate(784.2,1314) scale(0.94,1)" font-size="73.6" text-anchor="start" fill="#231815">F</text>
</g>
<g id="labelsC">
<line x1="106" y1="692.7" x2="106" y2="862.8" stroke="#231815" stroke-width="3.6" stroke-linecap="butt"/>
<text transform="translate(120.9,732.6) scale(1.07,1)" font-size="34.8" text-anchor="start" fill="#231815">Saline</text>
<text transform="translate(113,851.3) scale(1.07,1)" font-size="34.8" text-anchor="start" fill="#231815">Sorafenib</text>
<text transform="translate(86,864) rotate(-90) scale(1.03,1)" font-size="35" text-anchor="start" font-style="italic" fill="#231815">MTCH1</text>
<text transform="translate(61.6,738) rotate(-90) scale(1.03,1)" font-size="25.5" text-anchor="start" font-style="italic" fill="#231815">WT</text>
<line x1="104.1" y1="940.8" x2="104.1" y2="1111.5" stroke="#231815" stroke-width="3.6" stroke-linecap="butt"/>
<text transform="translate(119.2,976.1) scale(1.07,1)" font-size="34.8" text-anchor="start" fill="#231815">Saline</text>
<text transform="translate(111.4,1095) scale(1.07,1)" font-size="34.8" text-anchor="start" fill="#231815">Sorafenib</text>
<text transform="translate(81,1105.4) rotate(-90) scale(1.03,1)" font-size="35" text-anchor="start" font-style="italic" fill="#231815">MTCH1</text>
<text transform="translate(60.8,980.6) rotate(-90) scale(1.1,1)" font-size="25.5" text-anchor="start" font-style="italic" fill="#231815">KD</text>
</g>
<g id="labelsD">
<line x1="113.5" y1="1411.6" x2="113.5" y2="1531" stroke="#231815" stroke-width="3.6" stroke-linecap="butt"/>
<text transform="translate(127.9,1443.7) scale(1.07,1)" font-size="34.8" text-anchor="start" fill="#231815">Saline</text>
<text transform="translate(121.2,1526.8) scale(1.07,1)" font-size="34.8" text-anchor="start" fill="#231815">Sorafenib</text>
<text transform="translate(94,1535.5) rotate(-90) scale(1.03,1)" font-size="35" text-anchor="start" font-style="italic" fill="#231815">MTCH1</text>
<text transform="translate(69.3,1410.2) rotate(-90) scale(1.05,1)" font-size="25.5" text-anchor="start" font-style="italic" fill="#231815">WT</text>
<line x1="111.7" y1="1595.2" x2="111.7" y2="1714.9" stroke="#231815" stroke-width="3.6" stroke-linecap="butt"/>
<text transform="translate(127.1,1626.2) scale(1.07,1)" font-size="34.8" text-anchor="start" fill="#231815">Saline</text>
<text transform="translate(121.2,1711.2) scale(1.07,1)" font-size="34.8" text-anchor="start" fill="#231815">Sorafenib</text>
<text transform="translate(88.8,1717.8) rotate(-90) scale(1.03,1)" font-size="35" text-anchor="start" font-style="italic" fill="#231815">MTCH1</text>
<text transform="translate(68.1,1589) rotate(-90) scale(1.05,1)" font-size="25.5" text-anchor="start" font-style="italic" fill="#231815">KD</text>
</g>
<g id="photoC" clip-path="url(#clipC)">
<rect x="287.3" y="675" width="341.7" height="508.7" fill="url(#bgC)"/>
<rect x="287.3" y="675" width="341.7" height="508.7" fill="url(#bgCv)"/>
<ellipse cx="440" cy="990" rx="130" ry="230" fill="#fff" opacity="0.55" filter="url(#blurL)"/>
<g filter="url(#blurC)">
<use href="#tail" transform="translate(331,752)"/>
<use href="#mouse" transform="translate(331,752) scale(0.98)"/>
<use href="#mshade" transform="translate(331,752) scale(0.98)" opacity="0.3"/>
<use href="#tail" transform="translate(369.5,750)"/>
<use href="#mouse" transform="translate(369.5,750) scale(0.98)"/>
<use href="#mshade" transform="translate(369.5,750) scale(0.98)" opacity="0.25"/>
<use href="#tail" transform="translate(413,749)"/>
<use href="#mouse" transform="translate(413,749) scale(0.98)"/>
<use href="#mshade" transform="translate(413,749) scale(0.98)" opacity="0.2"/>
<use href="#tail" transform="translate(457,751)"/>
<use href="#mouse" transform="translate(457,751) scale(0.98)"/>
<use href="#mshade" transform="translate(457,751) scale(0.98)" opacity="0.15"/>
<use href="#tail" transform="translate(500.5,754)"/>
<use href="#mouse" transform="translate(500.5,754) scale(0.98)"/>
<use href="#mshade" transform="translate(500.5,754) scale(0.98)" opacity="0.1"/>
<use href="#tail" transform="translate(328,864)"/>
<use href="#mouse" transform="translate(328,864) scale(1)"/>
<use href="#mshade" transform="translate(328,864) scale(1)" opacity="0.17"/>
<use href="#tail" transform="translate(373.3,867)"/>
<use href="#mouse" transform="translate(373.3,867) scale(1)"/>
<use href="#mshade" transform="translate(373.3,867) scale(1)" opacity="0.12"/>
<use href="#tail" transform="translate(418.6,864)"/>
<use href="#mouse" transform="translate(418.6,864) scale(1)"/>
<use href="#mshade" transform="translate(418.6,864) scale(1)" opacity="0.06"/>
<use href="#tail" transform="translate(463.9,864)"/>
<use href="#mouse" transform="translate(463.9,864) scale(1)"/>
<use href="#mshade" transform="translate(463.9,864) scale(1)" opacity="0.01"/>
<use href="#tail" transform="translate(506.5,864)"/>
<use href="#mouse" transform="translate(506.5,864) scale(1)"/>
<use href="#tail" transform="translate(326.6,981)"/>
<use href="#mouse" transform="translate(326.6,981) scale(1)"/>
<use href="#mshade" transform="translate(326.6,981) scale(1)" opacity="0.03"/>
<use href="#tail" transform="translate(373.3,984)"/>
<use href="#mouse" transform="translate(373.3,984) scale(1)"/>
<use href="#tail" transform="translate(418.6,981)"/>
<use href="#mouse" transform="translate(418.6,981) scale(1)"/>
<use href="#tail" transform="translate(461.2,981)"/>
<use href="#mouse" transform="translate(461.2,981) scale(1)"/>
<use href="#tail" transform="translate(503.8,981)"/>
<use href="#mouse" transform="translate(503.8,981) scale(1)"/>
<use href="#tail" transform="translate(324,1109)"/>
<use href="#mouse" transform="translate(324,1109) scale(1)"/>
<use href="#tail" transform="translate(368,1109)"/>
<use href="#mouse" transform="translate(368,1109) scale(1)"/>
<use href="#tail" transform="translate(413.2,1109)"/>
<use href="#mouse" transform="translate(413.2,1109) scale(1)"/>
<use href="#tail" transform="translate(458.5,1109)"/>
<use href="#mouse" transform="translate(458.5,1109) scale(1)"/>
<use href="#tail" transform="translate(503.8,1109)"/>
<use href="#mouse" transform="translate(503.8,1109) scale(1)"/>
<ellipse cx="313" cy="724" rx="9" ry="10" fill="url(#bumpG)" opacity="0.6"/>
<ellipse cx="361" cy="717" rx="9" ry="9" fill="url(#bumpG)" opacity="0.6"/>
<ellipse cx="420" cy="714" rx="9" ry="11" fill="url(#bumpG)" opacity="0.6"/>
<ellipse cx="465" cy="722" rx="10" ry="11" fill="url(#bumpG)" opacity="0.6"/>
<ellipse cx="498" cy="722" rx="8" ry="8" fill="url(#bumpG)" opacity="0.6"/>
<ellipse cx="377" cy="840" rx="10" ry="9" fill="url(#bumpG)" opacity="0.6"/>
<ellipse cx="424" cy="829" rx="8" ry="10" fill="url(#bumpG)" opacity="0.6"/>
<ellipse cx="377" cy="968" rx="10" ry="10" fill="url(#bumpG)" opacity="0.6"/>
<ellipse cx="425" cy="960" rx="9" ry="10" fill="url(#bumpG)" opacity="0.6"/>
<ellipse cx="449" cy="960" rx="8" ry="9" fill="url(#bumpG)" opacity="0.6"/>
<ellipse cx="487" cy="965" rx="8" ry="8" fill="url(#bumpG)" opacity="0.6"/>
</g>
<rect x="587.5" y="675" width="41.5" height="508.7" fill="url(#rulC)"/>
<rect x="587.5" y="675" width="41.5" height="508.7" fill="url(#rulCh)"/>
<ellipse cx="604" cy="958" rx="12" ry="16" fill="#eef0f3" opacity="0.85" filter="url(#blurS)"/>
<ellipse cx="596" cy="905" rx="5" ry="30" fill="#9da0a5" opacity="0.55" filter="url(#blurS)"/>
<path d="M588,677 h7 M588,678.62 h3.2 M588,680.24 h3.2 M588,681.86 h3.2 M588,683.48 h3.2 M588,685.1 h5 M588,686.72 h3.2 M588,688.34 h3.2 M588,689.96 h3.2 M588,691.58 h3.2 M588,693.2 h7 M588,694.82 h3.2 M588,696.44 h3.2 M588,698.06 h3.2 M588,699.68 h3.2 M588,701.3 h5 M588,702.92 h3.2 M588,704.54 h3.2 M588,706.16 h3.2 M588,707.78 h3.2 M588,709.4 h7 M588,711.02 h3.2 M588,712.64 h3.2 M588,714.26 h3.2 M588,715.88 h3.2 M588,717.5 h5 M588,719.12 h3.2 M588,720.74 h3.2 M588,722.36 h3.2 M588,723.98 h3.2 M588,725.6 h7 M588,727.22 h3.2 M588,728.84 h3.2 M588,730.46 h3.2 M588,732.08 h3.2 M588,733.7 h5 M588,735.32 h3.2 M588,736.94 h3.2 M588,738.56 h3.2 M588,740.18 h3.2 M588,741.8 h7 M588,743.42 h3.2 M588,745.04 h3.2 M588,746.66 h3.2 M588,748.28 h3.2 M588,749.9 h5 M588,751.52 h3.2 M588,753.14 h3.2 M588,754.76 h3.2 M588,756.38 h3.2 M588,758 h7 M588,759.62 h3.2 M588,761.24 h3.2 M588,762.86 h3.2 M588,764.48 h3.2 M588,766.1 h5 M588,767.72 h3.2 M588,769.34 h3.2 M588,770.96 h3.2 M588,772.58 h3.2 M588,774.2 h7 M588,775.82 h3.2 M588,777.44 h3.2 M588,779.06 h3.2 M588,780.68 h3.2 M588,782.3 h5 M588,783.92 h3.2 M588,785.54 h3.2 M588,787.16 h3.2 M588,788.78 h3.2 M588,790.4 h7 M588,792.02 h3.2 M588,793.64 h3.2 M588,795.26 h3.2 M588,796.88 h3.2 M588,798.5 h5 M588,800.12 h3.2 M588,801.74 h3.2 M588,803.36 h3.2 M588,804.98 h3.2 M588,806.6 h7 M588,808.22 h3.2 M588,809.84 h3.2 M588,811.46 h3.2 M588,813.08 h3.2 M588,814.7 h5 M588,816.32 h3.2 M588,817.94 h3.2 M588,819.56 h3.2 M588,821.18 h3.2 M588,822.8 h7 M588,824.42 h3.2 M588,826.04 h3.2 M588,827.66 h3.2 M588,829.28 h3.2 M588,830.9 h5 M588,832.52 h3.2 M588,834.14 h3.2 M588,835.76 h3.2 M588,837.38 h3.2 M588,839 h7 M588,840.62 h3.2 M588,842.24 h3.2 M588,843.86 h3.2 M588,845.48 h3.2 M588,847.1 h5 M588,848.72 h3.2 M588,850.34 h3.2 M588,851.96 h3.2 M588,853.58 h3.2 M588,855.2 h7 M588,856.82 h3.2 M588,858.44 h3.2 M588,860.06 h3.2 M588,861.68 h3.2 M588,863.3 h5 M588,864.92 h3.2 M588,866.54 h3.2 M588,868.16 h3.2 M588,869.78 h3.2 M588,871.4 h7 M588,873.02 h3.2 M588,874.64 h3.2 M588,876.26 h3.2 M588,877.88 h3.2 M588,879.5 h5 M588,881.12 h3.2 M588,882.74 h3.2 M588,884.36 h3.2 M588,885.98 h3.2 M588,887.6 h7 M588,889.22 h3.2 M588,890.84 h3.2 M588,892.46 h3.2 M588,894.08 h3.2 M588,895.7 h5 M588,897.32 h3.2 M588,898.94 h3.2 M588,900.56 h3.2 M588,902.18 h3.2 M588,903.8 h7 M588,905.42 h3.2 M588,907.04 h3.2 M588,908.66 h3.2 M588,910.28 h3.2 M588,911.9 h5 M588,913.52 h3.2 M588,915.14 h3.2 M588,916.76 h3.2 M588,918.38 h3.2 M588,920 h7 M588,921.62 h3.2 M588,923.24 h3.2 M588,924.86 h3.2 M588,926.48 h3.2 M588,928.1 h5 M588,929.72 h3.2 M588,931.34 h3.2 M588,932.96 h3.2 M588,934.58 h3.2 M588,936.2 h7 M588,937.82 h3.2 M588,939.44 h3.2 M588,941.06 h3.2 M588,942.68 h3.2 M588,944.3 h5 M588,945.92 h3.2 M588,947.54 h3.2 M588,949.16 h3.2 M588,950.78 h3.2 M588,952.4 h7 M588,954.02 h3.2 M588,955.64 h3.2 M588,957.26 h3.2 M588,958.88 h3.2 M588,960.5 h5 M588,962.12 h3.2 M588,963.74 h3.2 M588,965.36 h3.2 M588,966.98 h3.2 M588,968.6 h7 M588,970.22 h3.2 M588,971.84 h3.2 M588,973.46 h3.2 M588,975.08 h3.2 M588,976.7 h5 M588,978.32 h3.2 M588,979.94 h3.2 M588,981.56 h3.2 M588,983.18 h3.2 M588,984.8 h7 M588,986.42 h3.2 M588,988.04 h3.2 M588,989.66 h3.2 M588,991.28 h3.2 M588,992.9 h5 M588,994.52 h3.2 M588,996.14 h3.2 M588,997.76 h3.2 M588,999.38 h3.2 M588,1001 h7 M588,1002.62 h3.2 M588,1004.24 h3.2 M588,1005.86 h3.2 M588,1007.48 h3.2 M588,1009.1 h5 M588,1010.72 h3.2 M588,1012.34 h3.2 M588,1013.96 h3.2 M588,1015.58 h3.2 M588,1017.2 h7 M588,1018.82 h3.2 M588,1020.44 h3.2 M588,1022.06 h3.2 M588,1023.68 h3.2 M588,1025.3 h5 M588,1026.92 h3.2 M588,1028.54 h3.2 M588,1030.16 h3.2 M588,1031.78 h3.2 M588,1033.4 h7 M588,1035.02 h3.2 M588,1036.64 h3.2 M588,1038.26 h3.2 M588,1039.88 h3.2 M588,1041.5 h5 M588,1043.12 h3.2 M588,1044.74 h3.2 M588,1046.36 h3.2 M588,1047.98 h3.2 M588,1049.6 h7 M588,1051.22 h3.2 M588,1052.84 h3.2 M588,1054.46 h3.2 M588,1056.08 h3.2 M588,1057.7 h5 M588,1059.32 h3.2 M588,1060.94 h3.2 M588,1062.56 h3.2 M588,1064.18 h3.2 M588,1065.8 h7 M588,1067.42 h3.2 M588,1069.04 h3.2 M588,1070.66 h3.2 M588,1072.28 h3.2 M588,1073.9 h5 M588,1075.52 h3.2 M588,1077.14 h3.2 M588,1078.76 h3.2 M588,1080.38 h3.2 M588,1082 h7 M588,1083.62 h3.2 M588,1085.24 h3.2 M588,1086.86 h3.2 M588,1088.48 h3.2 M588,1090.1 h5 M588,1091.72 h3.2 M588,1093.34 h3.2 M588,1094.96 h3.2 M588,1096.58 h3.2 M588,1098.2 h7 M588,1099.82 h3.2 M588,1101.44 h3.2 M588,1103.06 h3.2 M588,1104.68 h3.2 M588,1106.3 h5 M588,1107.92 h3.2 M588,1109.54 h3.2 M588,1111.16 h3.2 M588,1112.78 h3.2 M588,1114.4 h7 M588,1116.02 h3.2 M588,1117.64 h3.2 M588,1119.26 h3.2 M588,1120.88 h3.2 M588,1122.5 h5 M588,1124.12 h3.2 M588,1125.74 h3.2 M588,1127.36 h3.2 M588,1128.98 h3.2 M588,1130.6 h7 M588,1132.22 h3.2 M588,1133.84 h3.2 M588,1135.46 h3.2 M588,1137.08 h3.2 M588,1138.7 h5 M588,1140.32 h3.2 M588,1141.94 h3.2 M588,1143.56 h3.2 M588,1145.18 h3.2 M588,1146.8 h7 M588,1148.42 h3.2 M588,1150.04 h3.2 M588,1151.66 h3.2 M588,1153.28 h3.2 M588,1154.9 h5 M588,1156.52 h3.2 M588,1158.14 h3.2 M588,1159.76 h3.2 M588,1161.38 h3.2 M588,1163 h7 M588,1164.62 h3.2 M588,1166.24 h3.2 M588,1167.86 h3.2 M588,1169.48 h3.2 M588,1171.1 h5 M588,1172.72 h3.2 M588,1174.34 h3.2 M588,1175.96 h3.2 M588,1177.58 h3.2 M588,1179.2 h7 M588,1180.82 h3.2 M588,1182.44 h3.2" stroke="#b9bcc2" stroke-width="0.6" opacity="0.35" fill="none"/>
<text transform="translate(606.2,691.7) rotate(90)" font-size="12.5" text-anchor="middle" fill="#1c1d20" opacity="0.3">1</text>
<text transform="translate(606.2,708.4) rotate(90)" font-size="12.5" text-anchor="middle" fill="#1c1d20" opacity="0.3">2</text>
<text transform="translate(606.2,725.1) rotate(90)" font-size="12.5" text-anchor="middle" fill="#1c1d20" opacity="0.3">3</text>
<text transform="translate(606.2,741.8) rotate(90)" font-size="12.5" text-anchor="middle" fill="#1c1d20" opacity="0.3">4</text>
<text transform="translate(606.2,758.5) rotate(90)" font-size="12.5" text-anchor="middle" fill="#1c1d20" opacity="0.3">5</text>
<text transform="translate(606.2,775.2) rotate(90)" font-size="12.5" text-anchor="middle" fill="#1c1d20" opacity="0.3">6</text>
<text transform="translate(606.2,791.9) rotate(90)" font-size="12.5" text-anchor="middle" fill="#1c1d20" opacity="0.3">7</text>
<text transform="translate(606.2,808.6) rotate(90)" font-size="12.5" text-anchor="middle" fill="#1c1d20" opacity="0.45">8</text>
<text transform="translate(606.2,825.3) rotate(90)" font-size="12.5" text-anchor="middle" fill="#1c1d20" opacity="0.45">9</text>
<text transform="translate(606.2,842) rotate(90)" font-size="15.5" text-anchor="middle" fill="#8e1c22" opacity="0.75">10</text>
<text transform="translate(606.2,858.3) rotate(90)" font-size="12.5" text-anchor="middle" fill="#1c1d20" opacity="0.45">1</text>
<text transform="translate(606.2,874.6) rotate(90)" font-size="12.5" text-anchor="middle" fill="#1c1d20" opacity="0.45">2</text>
<text transform="translate(606.2,890.9) rotate(90)" font-size="12.5" text-anchor="middle" fill="#1c1d20" opacity="0.7">3</text>
<text transform="translate(606.2,907.2) rotate(90)" font-size="12.5" text-anchor="middle" fill="#1c1d20" opacity="0.7">4</text>
<text transform="translate(606.2,923.5) rotate(90)" font-size="12.5" text-anchor="middle" fill="#1c1d20" opacity="0.7">5</text>
<text transform="translate(606.2,939.8) rotate(90)" font-size="12.5" text-anchor="middle" fill="#1c1d20" opacity="0.7">6</text>
<text transform="translate(606.2,956.1) rotate(90)" font-size="12.5" text-anchor="middle" fill="#1c1d20" opacity="0.7">7</text>
<text transform="translate(606.2,972.4) rotate(90)" font-size="12.5" text-anchor="middle" fill="#1c1d20" opacity="0.7">8</text>
<text transform="translate(606.2,988.9) rotate(90)" font-size="12.5" text-anchor="middle" fill="#1c1d20" opacity="0.7">9</text>
<text transform="translate(606.2,1005.6) rotate(90)" font-size="15.5" text-anchor="middle" fill="#8e1c22" opacity="0.75">20</text>
<text transform="translate(606.2,1022.3) rotate(90)" font-size="12.5" text-anchor="middle" fill="#1c1d20" opacity="0.7">1</text>
<text transform="translate(606.2,1039) rotate(90)" font-size="12.5" text-anchor="middle" fill="#1c1d20" opacity="0.7">2</text>
<text transform="translate(606.2,1055.7) rotate(90)" font-size="12.5" text-anchor="middle" fill="#1c1d20" opacity="0.7">3</text>
<text transform="translate(606.2,1072.4) rotate(90)" font-size="12.5" text-anchor="middle" fill="#1c1d20" opacity="0.7">4</text>
<text transform="translate(606.2,1089.1) rotate(90)" font-size="12.5" text-anchor="middle" fill="#1c1d20" opacity="0.45">5</text>
<text transform="translate(606.2,1105.8) rotate(90)" font-size="12.5" text-anchor="middle" fill="#1c1d20" opacity="0.45">6</text>
<text transform="translate(606.2,1122.5) rotate(90)" font-size="12.5" text-anchor="middle" fill="#1c1d20" opacity="0.3">7</text>
<text transform="translate(606.2,1139.2) rotate(90)" font-size="12.5" text-anchor="middle" fill="#1c1d20" opacity="0.3">8</text>
<text transform="translate(606.2,1155.9) rotate(90)" font-size="12.5" text-anchor="middle" fill="#1c1d20" opacity="0.3">9</text>
<text transform="translate(606.2,1168) rotate(90)" font-size="15.5" text-anchor="middle" fill="#8e1c22" opacity="0.7">30</text>
<rect x="287.9" y="702.7" width="340.3" height="39.1" fill="none" stroke="#e60012" stroke-width="1.5"/>
<rect x="287.9" y="821" width="340.3" height="38.8" fill="none" stroke="#e60012" stroke-width="1.5"/>
<rect x="287.9" y="943.2" width="340.3" height="38.8" fill="none" stroke="#e60012" stroke-width="1.5"/>
<rect x="287.9" y="1064" width="340.3" height="39.8" fill="none" stroke="#e60012" stroke-width="1.5"/>
</g>
<g id="photoD" clip-path="url(#clipD)">
<rect x="325.2" y="1380.5" width="409.8" height="478.3" fill="url(#bgD)"/>
<g filter="url(#blurD)">
<g transform="rotate(-15 363.7 1431.9)"><ellipse cx="365.2" cy="1434.4" rx="20.1" ry="22.4" fill="#b5b3c4" opacity="0.5"/><ellipse cx="363.7" cy="1431.9" rx="18.14" ry="20.46" fill="#d48e6a"/><ellipse cx="355.18" cy="1434.86" rx="11.79" ry="11.95" fill="url(#tumG)"/><ellipse cx="354.6" cy="1431.39" rx="8.91" ry="9.17" fill="url(#tumG)"/><ellipse cx="356.44" cy="1423.19" rx="8.56" ry="8.18" fill="url(#tumG)"/><ellipse cx="372.72" cy="1438.42" rx="10.89" ry="9.42" fill="url(#tumG)"/><ellipse cx="375.46" cy="1430.41" rx="10.74" ry="11.44" fill="url(#tumG)"/><ellipse cx="366.44" cy="1436.6" rx="10.25" ry="8.93" fill="url(#tumG)"/><ellipse cx="366.13" cy="1438.85" rx="8.31" ry="8.41" fill="url(#tumG)"/><ellipse cx="353.72" cy="1436.32" rx="4.29" ry="3.52" fill="#b4492f" opacity="0.35"/><ellipse cx="369.58" cy="1421.78" rx="4.29" ry="3.52" fill="#b4492f" opacity="0.35"/><ellipse cx="353.05" cy="1430.45" rx="4.29" ry="3.52" fill="#b4492f" opacity="0.35"/></g>
<g transform="rotate(5 450.7 1436.8)"><ellipse cx="452.2" cy="1439.3" rx="20.1" ry="28.9" fill="#b5b3c4" opacity="0.5"/><ellipse cx="450.7" cy="1436.8" rx="18.14" ry="26.51" fill="#d48e6a"/><ellipse cx="445.31" cy="1427.23" rx="10.77" ry="10.88" fill="url(#tumG)"/><ellipse cx="448.57" cy="1454.17" rx="12.07" ry="13.81" fill="url(#tumG)"/><ellipse cx="448.83" cy="1426.72" rx="9.09" ry="8.64" fill="url(#tumG)"/><ellipse cx="460.11" cy="1443.29" rx="9.75" ry="11.18" fill="url(#tumG)"/><ellipse cx="441.78" cy="1448.07" rx="11.49" ry="9.77" fill="url(#tumG)"/><ellipse cx="453.57" cy="1452.99" rx="10.02" ry="11.96" fill="url(#tumG)"/><ellipse cx="446.38" cy="1441.54" rx="10.64" ry="11.95" fill="url(#tumG)"/><ellipse cx="449.37" cy="1452.35" rx="4.29" ry="4.56" fill="#b4492f" opacity="0.35"/><ellipse cx="459.86" cy="1444.96" rx="4.29" ry="4.56" fill="#b4492f" opacity="0.35"/><ellipse cx="445.38" cy="1450.41" rx="4.29" ry="4.56" fill="#b4492f" opacity="0.35"/></g>
<g transform="rotate(8 538 1435)"><ellipse cx="539.5" cy="1437.5" rx="17.1" ry="27.9" fill="#b5b3c4" opacity="0.5"/><ellipse cx="538" cy="1435" rx="15.35" ry="25.58" fill="#d48e6a"/><ellipse cx="546.53" cy="1431.74" rx="7.32" ry="6.85" fill="url(#tumG)"/><ellipse cx="541.62" cy="1439.44" rx="9.56" ry="8.72" fill="url(#tumG)"/><ellipse cx="531.61" cy="1430.84" rx="7.56" ry="8.36" fill="url(#tumG)"/><ellipse cx="543.48" cy="1444.84" rx="7.31" ry="7.29" fill="url(#tumG)"/><ellipse cx="539.33" cy="1444.36" rx="10.13" ry="11.46" fill="url(#tumG)"/><ellipse cx="534.82" cy="1449.97" rx="7.63" ry="7.53" fill="url(#tumG)"/><ellipse cx="542.9" cy="1424.38" rx="7.26" ry="8.69" fill="url(#tumG)"/><ellipse cx="540.08" cy="1449.72" rx="3.63" ry="4.4" fill="#b4492f" opacity="0.35"/><ellipse cx="537.53" cy="1450.1" rx="3.63" ry="4.4" fill="#b4492f" opacity="0.35"/><ellipse cx="539.29" cy="1420.03" rx="3.63" ry="4.4" fill="#b4492f" opacity="0.35"/></g>
<g transform="rotate(-6 617.8 1440)"><ellipse cx="619.3" cy="1442.5" rx="16.1" ry="31.4" fill="#b5b3c4" opacity="0.5"/><ellipse cx="617.8" cy="1440" rx="14.42" ry="28.83" fill="#d48e6a"/><ellipse cx="615.15" cy="1449.8" rx="6.74" ry="5.94" fill="url(#tumG)"/><ellipse cx="613.23" cy="1434.77" rx="8.37" ry="8.21" fill="url(#tumG)"/><ellipse cx="608.83" cy="1445.43" rx="8.01" ry="8.42" fill="url(#tumG)"/><ellipse cx="621.09" cy="1432.68" rx="6.99" ry="8.16" fill="url(#tumG)"/><ellipse cx="619.99" cy="1430.34" rx="7.1" ry="7.87" fill="url(#tumG)"/><ellipse cx="622.46" cy="1436.34" rx="9.46" ry="10.96" fill="url(#tumG)"/><ellipse cx="612.79" cy="1432.38" rx="6.83" ry="5.9" fill="url(#tumG)"/><ellipse cx="626.09" cy="1436.04" rx="3.41" ry="4.96" fill="#b4492f" opacity="0.35"/><ellipse cx="618.42" cy="1457" rx="3.41" ry="4.96" fill="#b4492f" opacity="0.35"/><ellipse cx="615.4" cy="1423.64" rx="3.41" ry="4.96" fill="#b4492f" opacity="0.35"/></g>
<g transform="rotate(0 698.2 1436.8)"><ellipse cx="699.7" cy="1439.3" rx="17.1" ry="19.9" fill="#b5b3c4" opacity="0.5"/><ellipse cx="698.2" cy="1436.8" rx="15.35" ry="18.14" fill="#e6b993"/><ellipse cx="697.8" cy="1447.61" rx="8.9" ry="8.48" fill="url(#tumP)"/><ellipse cx="702.05" cy="1445.79" rx="7.16" ry="6.66" fill="url(#tumP)"/><ellipse cx="689.51" cy="1432.78" rx="8.96" ry="8.49" fill="url(#tumP)"/><ellipse cx="702.86" cy="1433.65" rx="6.98" ry="6.6" fill="url(#tumP)"/><ellipse cx="693.96" cy="1438.58" rx="7.51" ry="7.35" fill="url(#tumP)"/><ellipse cx="693.77" cy="1434.25" rx="8.13" ry="9.44" fill="url(#tumP)"/><ellipse cx="706.27" cy="1435.62" rx="9.21" ry="9.71" fill="url(#tumP)"/></g>
<g transform="rotate(-10 363.7 1515.5)"><ellipse cx="365.2" cy="1518" rx="16.1" ry="18.9" fill="#b5b3c4" opacity="0.5"/><ellipse cx="363.7" cy="1515.5" rx="14.42" ry="17.21" fill="#d48e6a"/><ellipse cx="366.29" cy="1519.26" rx="6.57" ry="7.67" fill="url(#tumG)"/><ellipse cx="360.85" cy="1504.81" rx="6.58" ry="7.05" fill="url(#tumG)"/><ellipse cx="355.69" cy="1516.57" rx="7.5" ry="9" fill="url(#tumG)"/><ellipse cx="369.94" cy="1519.31" rx="8.79" ry="10.25" fill="url(#tumG)"/><ellipse cx="363.06" cy="1506.09" rx="8.97" ry="10.5" fill="url(#tumG)"/><ellipse cx="359.04" cy="1522.97" rx="9.3" ry="10.74" fill="url(#tumG)"/><ellipse cx="356.41" cy="1520.49" rx="9.19" ry="9.65" fill="url(#tumG)"/><ellipse cx="357.67" cy="1508.31" rx="3.41" ry="2.96" fill="#b4492f" opacity="0.35"/><ellipse cx="357.4" cy="1522.36" rx="3.41" ry="2.96" fill="#b4492f" opacity="0.35"/><ellipse cx="356.3" cy="1510.45" rx="3.41" ry="2.96" fill="#b4492f" opacity="0.35"/></g>
<g transform="rotate(0 446.8 1519.2)"><ellipse cx="448.3" cy="1521.7" rx="15.1" ry="16.4" fill="#b5b3c4" opacity="0.5"/><ellipse cx="446.8" cy="1519.2" rx="13.49" ry="14.88" fill="#d48e6a"/><ellipse cx="443.66" cy="1516.37" rx="7.94" ry="9.51" fill="url(#tumG)"/><ellipse cx="452.28" cy="1513.5" rx="7.22" ry="7.99" fill="url(#tumG)"/><ellipse cx="441.57" cy="1515.98" rx="8.52" ry="7.49" fill="url(#tumG)"/><ellipse cx="446.8" cy="1515.02" rx="7.83" ry="7.98" fill="url(#tumG)"/><ellipse cx="447.71" cy="1527.27" rx="7.53" ry="8.02" fill="url(#tumG)"/><ellipse cx="451.19" cy="1516.56" rx="6.12" ry="5.85" fill="url(#tumG)"/><ellipse cx="444.74" cy="1514.52" rx="6.58" ry="7.68" fill="url(#tumG)"/><ellipse cx="442.53" cy="1511.77" rx="3.19" ry="2.56" fill="#b4492f" opacity="0.35"/><ellipse cx="439.35" cy="1522.34" rx="3.19" ry="2.56" fill="#b4492f" opacity="0.35"/><ellipse cx="453" cy="1513.66" rx="3.19" ry="2.56" fill="#b4492f" opacity="0.35"/></g>
<g transform="rotate(-8 535.7 1522.4)"><ellipse cx="537.2" cy="1524.9" rx="12.6" ry="15.9" fill="#b5b3c4" opacity="0.5"/><ellipse cx="535.7" cy="1522.4" rx="11.16" ry="14.42" fill="#d48e6a"/><ellipse cx="532.93" cy="1529.21" rx="5.52" ry="5.52" fill="url(#tumG)"/><ellipse cx="538.13" cy="1513.84" rx="7.15" ry="7.04" fill="url(#tumG)"/><ellipse cx="531.88" cy="1519.56" rx="5.37" ry="5.49" fill="url(#tumG)"/><ellipse cx="539.22" cy="1514.93" rx="6.75" ry="7.98" fill="url(#tumG)"/><ellipse cx="535.07" cy="1527.18" rx="6.12" ry="5.79" fill="url(#tumG)"/><ellipse cx="536.78" cy="1528.49" rx="6.54" ry="6.69" fill="url(#tumG)"/><ellipse cx="533.01" cy="1530.36" rx="7.4" ry="7.46" fill="url(#tumG)"/><ellipse cx="541.59" cy="1526.25" rx="2.64" ry="2.48" fill="#b4492f" opacity="0.35"/><ellipse cx="542.17" cy="1524.08" rx="2.64" ry="2.48" fill="#b4492f" opacity="0.35"/><ellipse cx="540.3" cy="1516.29" rx="2.64" ry="2.48" fill="#b4492f" opacity="0.35"/></g>
<g transform="rotate(0 615.5 1526.3)"><ellipse cx="617" cy="1528.8" rx="11.1" ry="12.9" fill="#b5b3c4" opacity="0.5"/><ellipse cx="615.5" cy="1526.3" rx="9.77" ry="11.62" fill="#e6b993"/><ellipse cx="620.7" cy="1527.95" rx="5.61" ry="5.37" fill="url(#tumP)"/><ellipse cx="616.2" cy="1523.2" rx="4.7" ry="4.74" fill="url(#tumP)"/><ellipse cx="621.28" cy="1527.38" rx="4.91" ry="4.41" fill="url(#tumP)"/><ellipse cx="620.35" cy="1528.05" rx="5.35" ry="5.72" fill="url(#tumP)"/><ellipse cx="612.26" cy="1520.63" rx="6.42" ry="7" fill="url(#tumP)"/><ellipse cx="616.9" cy="1531.36" rx="4.79" ry="4.09" fill="url(#tumP)"/><ellipse cx="610.18" cy="1527.42" rx="4.79" ry="4.52" fill="url(#tumP)"/></g>
<g transform="rotate(0 694.3 1524.7)"><ellipse cx="695.8" cy="1527.2" rx="7.1" ry="6.2" fill="#b5b3c4" opacity="0.5"/><ellipse cx="694.3" cy="1524.7" rx="6.04" ry="5.39" fill="#d48e6a"/><ellipse cx="692.43" cy="1527.13" rx="3.04" ry="3.24" fill="url(#tumG)"/><ellipse cx="694.4" cy="1522.41" rx="3.35" ry="3.92" fill="url(#tumG)"/></g>
<g transform="rotate(-12 363.7 1611)"><ellipse cx="365.2" cy="1613.5" rx="18.1" ry="23.4" fill="#b5b3c4" opacity="0.5"/><ellipse cx="363.7" cy="1611" rx="16.28" ry="21.39" fill="#d48e6a"/><ellipse cx="372.59" cy="1618.13" rx="9.88" ry="8.85" fill="url(#tumG)"/><ellipse cx="355.63" cy="1614.19" rx="10.53" ry="10.34" fill="url(#tumG)"/><ellipse cx="354.56" cy="1605.46" rx="10.14" ry="11.97" fill="url(#tumG)"/><ellipse cx="355.33" cy="1613.55" rx="8.07" ry="8.9" fill="url(#tumG)"/><ellipse cx="367.25" cy="1600.81" rx="9.86" ry="9.12" fill="url(#tumG)"/><ellipse cx="372.38" cy="1602.71" rx="10.77" ry="11.18" fill="url(#tumG)"/><ellipse cx="365.33" cy="1602.8" rx="10.53" ry="12.11" fill="url(#tumG)"/><ellipse cx="358.12" cy="1621.3" rx="3.85" ry="3.68" fill="#b4492f" opacity="0.35"/><ellipse cx="372.05" cy="1617.29" rx="3.85" ry="3.68" fill="#b4492f" opacity="0.35"/><ellipse cx="354.73" cy="1615.59" rx="3.85" ry="3.68" fill="#b4492f" opacity="0.35"/></g>
<g transform="rotate(0 446.8 1611)"><ellipse cx="448.3" cy="1613.5" rx="20.1" ry="21.4" fill="#b5b3c4" opacity="0.5"/><ellipse cx="446.8" cy="1611" rx="18.14" ry="19.53" fill="#d48e6a"/><ellipse cx="436.9" cy="1607.51" rx="10.09" ry="8.68" fill="url(#tumG)"/><ellipse cx="448.74" cy="1605.64" rx="11.31" ry="10.3" fill="url(#tumG)"/><ellipse cx="441.42" cy="1620.79" rx="8.74" ry="7.88" fill="url(#tumG)"/><ellipse cx="436.76" cy="1609.87" rx="11.47" ry="12.51" fill="url(#tumG)"/><ellipse cx="454.74" cy="1607.97" rx="11.89" ry="10.47" fill="url(#tumG)"/><ellipse cx="448.35" cy="1620.19" rx="9.32" ry="10.3" fill="url(#tumG)"/><ellipse cx="441.24" cy="1603.87" rx="11.48" ry="12.01" fill="url(#tumG)"/><ellipse cx="442.75" cy="1621.69" rx="4.29" ry="3.36" fill="#b4492f" opacity="0.35"/><ellipse cx="438.93" cy="1618.84" rx="4.29" ry="3.36" fill="#b4492f" opacity="0.35"/><ellipse cx="452.84" cy="1601.46" rx="4.29" ry="3.36" fill="#b4492f" opacity="0.35"/></g>
<g transform="rotate(10 541.2 1610.4)"><ellipse cx="542.7" cy="1612.9" rx="20.6" ry="22.4" fill="#b5b3c4" opacity="0.5"/><ellipse cx="541.2" cy="1610.4" rx="18.6" ry="20.46" fill="#d48e6a"/><ellipse cx="546.5" cy="1606.19" rx="11.8" ry="14.03" fill="url(#tumG)"/><ellipse cx="532.07" cy="1608.86" rx="9.2" ry="9.55" fill="url(#tumG)"/><ellipse cx="531.72" cy="1610.19" rx="8.51" ry="10.12" fill="url(#tumG)"/><ellipse cx="533.28" cy="1609.52" rx="11.6" ry="12.15" fill="url(#tumG)"/><ellipse cx="531.1" cy="1611.03" rx="8.66" ry="9" fill="url(#tumG)"/><ellipse cx="530.85" cy="1617.25" rx="12.09" ry="11.42" fill="url(#tumG)"/><ellipse cx="535.34" cy="1611.5" rx="10.13" ry="11.51" fill="url(#tumG)"/><ellipse cx="550.12" cy="1603.32" rx="4.4" ry="3.52" fill="#b4492f" opacity="0.35"/><ellipse cx="530.32" cy="1612.18" rx="4.4" ry="3.52" fill="#b4492f" opacity="0.35"/><ellipse cx="536.69" cy="1621.44" rx="4.4" ry="3.52" fill="#b4492f" opacity="0.35"/></g>
<g transform="rotate(0 618.7 1610.4)"><ellipse cx="620.2" cy="1612.9" rx="19.1" ry="21.4" fill="#b5b3c4" opacity="0.5"/><ellipse cx="618.7" cy="1610.4" rx="17.21" ry="19.53" fill="#d48e6a"/><ellipse cx="621.88" cy="1619.78" rx="11.19" ry="10.02" fill="url(#tumG)"/><ellipse cx="619.57" cy="1605.06" rx="8.49" ry="7.89" fill="url(#tumG)"/><ellipse cx="616.07" cy="1603.25" rx="9.08" ry="9.69" fill="url(#tumG)"/><ellipse cx="626.31" cy="1617.09" rx="8.22" ry="8.46" fill="url(#tumG)"/><ellipse cx="618.68" cy="1617.19" rx="9.73" ry="9.76" fill="url(#tumG)"/><ellipse cx="613.4" cy="1616.36" rx="9.73" ry="8.81" fill="url(#tumG)"/><ellipse cx="621.24" cy="1620.14" rx="10.13" ry="10.49" fill="url(#tumG)"/><ellipse cx="624.75" cy="1601.11" rx="4.07" ry="3.36" fill="#b4492f" opacity="0.35"/><ellipse cx="610.93" cy="1602.94" rx="4.07" ry="3.36" fill="#b4492f" opacity="0.35"/><ellipse cx="625.03" cy="1601.35" rx="4.07" ry="3.36" fill="#b4492f" opacity="0.35"/></g>
<g transform="rotate(0 692.7 1609.4)"><ellipse cx="694.2" cy="1611.9" rx="17.1" ry="23.4" fill="#b5b3c4" opacity="0.5"/><ellipse cx="692.7" cy="1609.4" rx="15.35" ry="21.39" fill="#d48e6a"/><ellipse cx="693.64" cy="1621.38" rx="9.6" ry="11.2" fill="url(#tumG)"/><ellipse cx="690.27" cy="1617.12" rx="9.98" ry="9.24" fill="url(#tumG)"/><ellipse cx="702.24" cy="1609.26" rx="7.37" ry="6.88" fill="url(#tumG)"/><ellipse cx="691.86" cy="1601.53" rx="7.25" ry="8.27" fill="url(#tumG)"/><ellipse cx="684.82" cy="1615.3" rx="7.35" ry="7.28" fill="url(#tumG)"/><ellipse cx="691.02" cy="1603.98" rx="7.59" ry="8.27" fill="url(#tumG)"/><ellipse cx="701.22" cy="1602.01" rx="7.31" ry="7.51" fill="url(#tumG)"/><ellipse cx="693.16" cy="1596.77" rx="3.63" ry="3.68" fill="#b4492f" opacity="0.35"/><ellipse cx="683.63" cy="1609.18" rx="3.63" ry="3.68" fill="#b4492f" opacity="0.35"/><ellipse cx="689.13" cy="1597.77" rx="3.63" ry="3.68" fill="#b4492f" opacity="0.35"/></g>
<g transform="rotate(-10 369.3 1689.8)"><ellipse cx="370.8" cy="1692.3" rx="6.6" ry="10.9" fill="#b5b3c4" opacity="0.5"/><ellipse cx="369.3" cy="1689.8" rx="5.58" ry="9.77" fill="#d9a868"/><ellipse cx="369.92" cy="1692.49" rx="2.65" ry="2.28" fill="url(#tumY)"/><ellipse cx="366.8" cy="1688.32" rx="3.2" ry="2.89" fill="url(#tumY)"/></g>
<g transform="rotate(-20 454.3 1690.8)"><ellipse cx="455.8" cy="1693.3" rx="7.6" ry="9.2" fill="#b5b3c4" opacity="0.5"/><ellipse cx="454.3" cy="1690.8" rx="6.51" ry="8.18" fill="#d9a868"/><ellipse cx="455.21" cy="1693.43" rx="4.12" ry="4.93" fill="url(#tumY)"/><ellipse cx="456.09" cy="1689.69" rx="3.03" ry="3.58" fill="url(#tumY)"/><ellipse cx="450.67" cy="1691.91" rx="3.4" ry="3.44" fill="url(#tumY)"/><ellipse cx="451.45" cy="1690.45" rx="3.78" ry="3.23" fill="url(#tumY)"/></g>
<g transform="rotate(0 535.4 1692.4)"><ellipse cx="536.9" cy="1694.9" rx="6.4" ry="6.9" fill="#b5b3c4" opacity="0.5"/><ellipse cx="535.4" cy="1692.4" rx="5.39" ry="6.04" fill="#d48e6a"/><ellipse cx="534.41" cy="1688.92" rx="2.65" ry="2.67" fill="url(#tumG)"/><ellipse cx="535.24" cy="1689.81" rx="2.66" ry="2.42" fill="url(#tumG)"/></g>
<g transform="rotate(0 617.1 1692.4)"><ellipse cx="618.6" cy="1694.9" rx="6.2" ry="6.9" fill="#b5b3c4" opacity="0.5"/><ellipse cx="617.1" cy="1692.4" rx="5.21" ry="6.04" fill="#d48e6a"/><ellipse cx="615.67" cy="1692.27" rx="3.35" ry="3.79" fill="url(#tumG)"/><ellipse cx="616.21" cy="1688.85" rx="3.06" ry="3.03" fill="url(#tumG)"/></g>
<g transform="rotate(0 695.3 1691.8)"><ellipse cx="696.8" cy="1694.3" rx="6.8" ry="7.7" fill="#b5b3c4" opacity="0.5"/><ellipse cx="695.3" cy="1691.8" rx="5.77" ry="6.79" fill="#d48e6a"/><ellipse cx="693.11" cy="1689.93" rx="3.82" ry="4.33" fill="url(#tumG)"/><ellipse cx="695.11" cy="1696.08" rx="3.53" ry="3.96" fill="url(#tumG)"/><ellipse cx="696.28" cy="1689.12" rx="3.72" ry="4.3" fill="url(#tumG)"/><ellipse cx="694.17" cy="1688.13" rx="3.55" ry="3.52" fill="url(#tumG)"/></g>
<ellipse cx="364.5" cy="1539.5" rx="6.5" ry="6" fill="url(#tumG)"/>
</g>
<rect x="325.2" y="1767.3" width="409.8" height="91.5" fill="url(#rulD)"/>
<rect x="325.2" y="1767.3" width="409.8" height="91.5" fill="url(#rulDv)"/>
<path d="M327.35,1767.8 v18.5 M327.35,1858.3 v-8.7 M331.18,1767.8 v18.5 M331.18,1858.3 v-8.7 M335,1767.8 v31 M335,1858.3 v-24 M338.82,1767.8 v18.5 M338.82,1858.3 v-8.7 M342.65,1767.8 v18.5 M342.65,1858.3 v-8.7 M346.47,1767.8 v18.5 M346.47,1858.3 v-8.7 M350.3,1767.8 v18.5 M350.3,1858.3 v-8.7 M354.12,1767.8 v25 M354.12,1858.3 v-15 M357.94,1767.8 v18.5 M357.94,1858.3 v-8.7 M361.77,1767.8 v18.5 M361.77,1858.3 v-8.7 M365.59,1767.8 v18.5 M365.59,1858.3 v-8.7 M369.42,1767.8 v18.5 M369.42,1858.3 v-8.7 M373.24,1767.8 v31 M373.24,1858.3 v-24 M377.06,1767.8 v18.5 M377.06,1858.3 v-8.7 M380.89,1767.8 v18.5 M380.89,1858.3 v-8.7 M384.71,1767.8 v18.5 M384.71,1858.3 v-8.7 M388.54,1767.8 v18.5 M388.54,1858.3 v-8.7 M392.36,1767.8 v25 M392.36,1858.3 v-15 M396.18,1767.8 v18.5 M396.18,1858.3 v-8.7 M400.01,1767.8 v18.5 M400.01,1858.3 v-8.7 M403.83,1767.8 v18.5 M403.83,1858.3 v-8.7 M407.66,1767.8 v18.5 M407.66,1858.3 v-8.7 M411.48,1767.8 v31 M411.48,1858.3 v-24 M415.3,1767.8 v18.5 M415.3,1858.3 v-8.7 M419.13,1767.8 v18.5 M419.13,1858.3 v-8.7 M422.95,1767.8 v18.5 M422.95,1858.3 v-8.7 M426.78,1767.8 v18.5 M426.78,1858.3 v-8.7 M430.6,1767.8 v25 M430.6,1858.3 v-15 M434.42,1767.8 v18.5 M434.42,1858.3 v-8.7 M438.25,1767.8 v18.5 M438.25,1858.3 v-8.7 M442.07,1767.8 v18.5 M442.07,1858.3 v-8.7 M445.9,1767.8 v18.5 M445.9,1858.3 v-8.7 M449.72,1767.8 v31 M449.72,1858.3 v-24 M453.54,1767.8 v18.5 M453.54,1858.3 v-8.7 M457.37,1767.8 v18.5 M457.37,1858.3 v-8.7 M461.19,1767.8 v18.5 M461.19,1858.3 v-8.7 M465.02,1767.8 v18.5 M465.02,1858.3 v-8.7 M468.84,1767.8 v25 M468.84,1858.3 v-15 M472.66,1767.8 v18.5 M472.66,1858.3 v-8.7 M476.49,1767.8 v18.5 M476.49,1858.3 v-8.7 M480.31,1767.8 v18.5 M480.31,1858.3 v-8.7 M484.14,1767.8 v18.5 M484.14,1858.3 v-8.7 M487.96,1767.8 v31 M487.96,1858.3 v-24 M491.78,1767.8 v18.5 M491.78,1858.3 v-8.7 M495.61,1767.8 v18.5 M495.61,1858.3 v-8.7 M499.43,1767.8 v18.5 M499.43,1858.3 v-8.7 M503.26,1767.8 v18.5 M503.26,1858.3 v-8.7 M507.08,1767.8 v25 M507.08,1858.3 v-15 M510.9,1767.8 v18.5 M510.9,1858.3 v-8.7 M514.73,1767.8 v18.5 M514.73,1858.3 v-8.7 M518.55,1767.8 v18.5 M518.55,1858.3 v-8.7 M522.38,1767.8 v18.5 M522.38,1858.3 v-8.7 M526.2,1767.8 v31 M526.2,1858.3 v-24 M530.02,1767.8 v18.5 M530.02,1858.3 v-8.7 M533.85,1767.8 v18.5 M533.85,1858.3 v-8.7 M537.67,1767.8 v18.5 M537.67,1858.3 v-8.7 M541.5,1767.8 v18.5 M541.5,1858.3 v-8.7 M545.32,1767.8 v25 M545.32,1858.3 v-15 M549.14,1767.8 v18.5 M549.14,1858.3 v-8.7 M552.97,1767.8 v18.5 M552.97,1858.3 v-8.7 M556.79,1767.8 v18.5 M556.79,1858.3 v-8.7 M560.62,1767.8 v18.5 M560.62,1858.3 v-8.7 M564.44,1767.8 v31 M564.44,1858.3 v-24 M568.26,1767.8 v18.5 M568.26,1858.3 v-8.7 M572.09,1767.8 v18.5 M572.09,1858.3 v-8.7 M575.91,1767.8 v18.5 M575.91,1858.3 v-8.7 M579.74,1767.8 v18.5 M579.74,1858.3 v-8.7 M583.56,1767.8 v25 M583.56,1858.3 v-15 M587.38,1767.8 v18.5 M587.38,1858.3 v-8.7 M591.21,1767.8 v18.5 M591.21,1858.3 v-8.7 M595.03,1767.8 v18.5 M595.03,1858.3 v-8.7 M598.86,1767.8 v18.5 M598.86,1858.3 v-8.7 M602.68,1767.8 v31 M602.68,1858.3 v-24 M606.5,1767.8 v18.5 M606.5,1858.3 v-8.7 M610.33,1767.8 v18.5 M610.33,1858.3 v-8.7 M614.15,1767.8 v18.5 M614.15,1858.3 v-8.7 M617.98,1767.8 v18.5 M617.98,1858.3 v-8.7 M621.8,1767.8 v25 M621.8,1858.3 v-15 M625.62,1767.8 v18.5 M625.62,1858.3 v-8.7 M629.45,1767.8 v18.5 M629.45,1858.3 v-8.7 M633.27,1767.8 v18.5 M633.27,1858.3 v-8.7 M637.1,1767.8 v18.5 M637.1,1858.3 v-8.7 M640.92,1767.8 v31 M640.92,1858.3 v-24 M644.74,1767.8 v18.5 M644.74,1858.3 v-8.7 M648.57,1767.8 v18.5 M648.57,1858.3 v-8.7 M652.39,1767.8 v18.5 M652.39,1858.3 v-8.7 M656.22,1767.8 v18.5 M656.22,1858.3 v-8.7 M660.04,1767.8 v25 M660.04,1858.3 v-15 M663.86,1767.8 v18.5 M663.86,1858.3 v-8.7 M667.69,1767.8 v18.5 M667.69,1858.3 v-8.7 M671.51,1767.8 v18.5 M671.51,1858.3 v-8.7 M675.34,1767.8 v18.5 M675.34,1858.3 v-8.7 M679.16,1767.8 v31 M679.16,1858.3 v-24 M682.98,1767.8 v18.5 M682.98,1858.3 v-8.7 M686.81,1767.8 v18.5 M686.81,1858.3 v-8.7 M690.63,1767.8 v18.5 M690.63,1858.3 v-8.7 M694.46,1767.8 v18.5 M694.46,1858.3 v-8.7 M698.28,1767.8 v25 M698.28,1858.3 v-15 M702.1,1767.8 v18.5 M702.1,1858.3 v-8.7 M705.93,1767.8 v18.5 M705.93,1858.3 v-8.7 M709.75,1767.8 v18.5 M709.75,1858.3 v-8.7 M713.58,1767.8 v18.5 M713.58,1858.3 v-8.7 M717.4,1767.8 v31 M717.4,1858.3 v-24 M721.22,1767.8 v18.5 M721.22,1858.3 v-8.7 M725.05,1767.8 v18.5 M725.05,1858.3 v-8.7 M728.87,1767.8 v18.5 M728.87,1858.3 v-8.7 M732.7,1767.8 v18.5 M732.7,1858.3 v-8.7" stroke="#333335" stroke-width="0.9" opacity="0.7" fill="none"/>
<path d="M329.26,1767.8 v14 M333.09,1767.8 v14 M336.91,1767.8 v14 M340.74,1767.8 v14 M344.56,1767.8 v14 M348.38,1767.8 v14 M352.21,1767.8 v14 M356.03,1767.8 v14 M359.86,1767.8 v14 M363.68,1767.8 v14 M367.5,1767.8 v14 M371.33,1767.8 v14 M375.15,1767.8 v14 M378.98,1767.8 v14 M382.8,1767.8 v14 M386.62,1767.8 v14 M390.45,1767.8 v14 M394.27,1767.8 v14 M398.1,1767.8 v14 M401.92,1767.8 v14 M405.74,1767.8 v14 M409.57,1767.8 v14 M413.39,1767.8 v14 M417.22,1767.8 v14 M421.04,1767.8 v14 M424.86,1767.8 v14 M428.69,1767.8 v14 M432.51,1767.8 v14 M436.34,1767.8 v14 M440.16,1767.8 v14 M443.98,1767.8 v14 M447.81,1767.8 v14 M451.63,1767.8 v14 M455.46,1767.8 v14 M459.28,1767.8 v14 M463.1,1767.8 v14 M466.93,1767.8 v14 M470.75,1767.8 v14 M474.58,1767.8 v14 M478.4,1767.8 v14 M482.22,1767.8 v14 M486.05,1767.8 v14 M489.87,1767.8 v14 M493.7,1767.8 v14 M497.52,1767.8 v14 M501.34,1767.8 v14 M505.17,1767.8 v14 M508.99,1767.8 v14 M512.82,1767.8 v14 M516.64,1767.8 v14 M520.46,1767.8 v14 M524.29,1767.8 v14 M528.11,1767.8 v14 M531.94,1767.8 v14 M535.76,1767.8 v14 M539.58,1767.8 v14 M543.41,1767.8 v14 M547.23,1767.8 v14 M551.06,1767.8 v14 M554.88,1767.8 v14 M558.7,1767.8 v14 M562.53,1767.8 v14 M566.35,1767.8 v14 M570.18,1767.8 v14 M574,1767.8 v14 M577.82,1767.8 v14 M581.65,1767.8 v14 M585.47,1767.8 v14 M589.3,1767.8 v14 M593.12,1767.8 v14 M596.94,1767.8 v14 M600.77,1767.8 v14 M604.59,1767.8 v14 M608.42,1767.8 v14 M612.24,1767.8 v14 M616.06,1767.8 v14 M619.89,1767.8 v14 M623.71,1767.8 v14 M627.54,1767.8 v14 M631.36,1767.8 v14 M635.18,1767.8 v14 M639.01,1767.8 v14 M642.83,1767.8 v14 M646.66,1767.8 v14 M650.48,1767.8 v14 M654.3,1767.8 v14 M658.13,1767.8 v14 M661.95,1767.8 v14 M665.78,1767.8 v14 M669.6,1767.8 v14 M673.42,1767.8 v14 M677.25,1767.8 v14 M681.07,1767.8 v14 M684.9,1767.8 v14 M688.72,1767.8 v14 M692.54,1767.8 v14 M696.37,1767.8 v14 M700.19,1767.8 v14 M704.02,1767.8 v14 M707.84,1767.8 v14 M711.66,1767.8 v14 M715.49,1767.8 v14 M719.31,1767.8 v14 M723.14,1767.8 v14 M726.96,1767.8 v14 M730.78,1767.8 v14 M734.61,1767.8 v14" stroke="#333335" stroke-width="0.8" opacity="0.5" fill="none"/>
<text x="332.4" y="1824.6" font-size="21.5" text-anchor="middle" fill="#1c1c1e" opacity="0.88">3</text>
<text x="369.7" y="1824.6" font-size="21.5" text-anchor="middle" fill="#1c1c1e" opacity="0.88">4</text>
<text x="410.1" y="1824.6" font-size="21.5" text-anchor="middle" fill="#1c1c1e" opacity="0.88">5</text>
<text x="448.4" y="1824.6" font-size="21.5" text-anchor="middle" fill="#1c1c1e" opacity="0.88">6</text>
<text x="487.2" y="1824.6" font-size="21.5" text-anchor="middle" fill="#1c1c1e" opacity="0.88">7</text>
<text x="523.6" y="1824.6" font-size="21.5" text-anchor="middle" fill="#1c1c1e" opacity="0.88">8</text>
<text x="562.5" y="1824.6" font-size="21.5" text-anchor="middle" fill="#1c1c1e" opacity="0.88">9</text>
<text x="637.7" y="1824.6" font-size="21.5" text-anchor="middle" fill="#1c1c1e" opacity="0.88">1</text>
<text x="675.3" y="1824.6" font-size="21.5" text-anchor="middle" fill="#1c1c1e" opacity="0.88">2</text>
<text x="714.8" y="1824.6" font-size="21.5" text-anchor="middle" fill="#1c1c1e" opacity="0.88">3</text>
<text x="599.8" y="1826" font-size="29" text-anchor="middle" fill="#741818" opacity="0.95">10</text>
</g>
</svg>
</body></html>
